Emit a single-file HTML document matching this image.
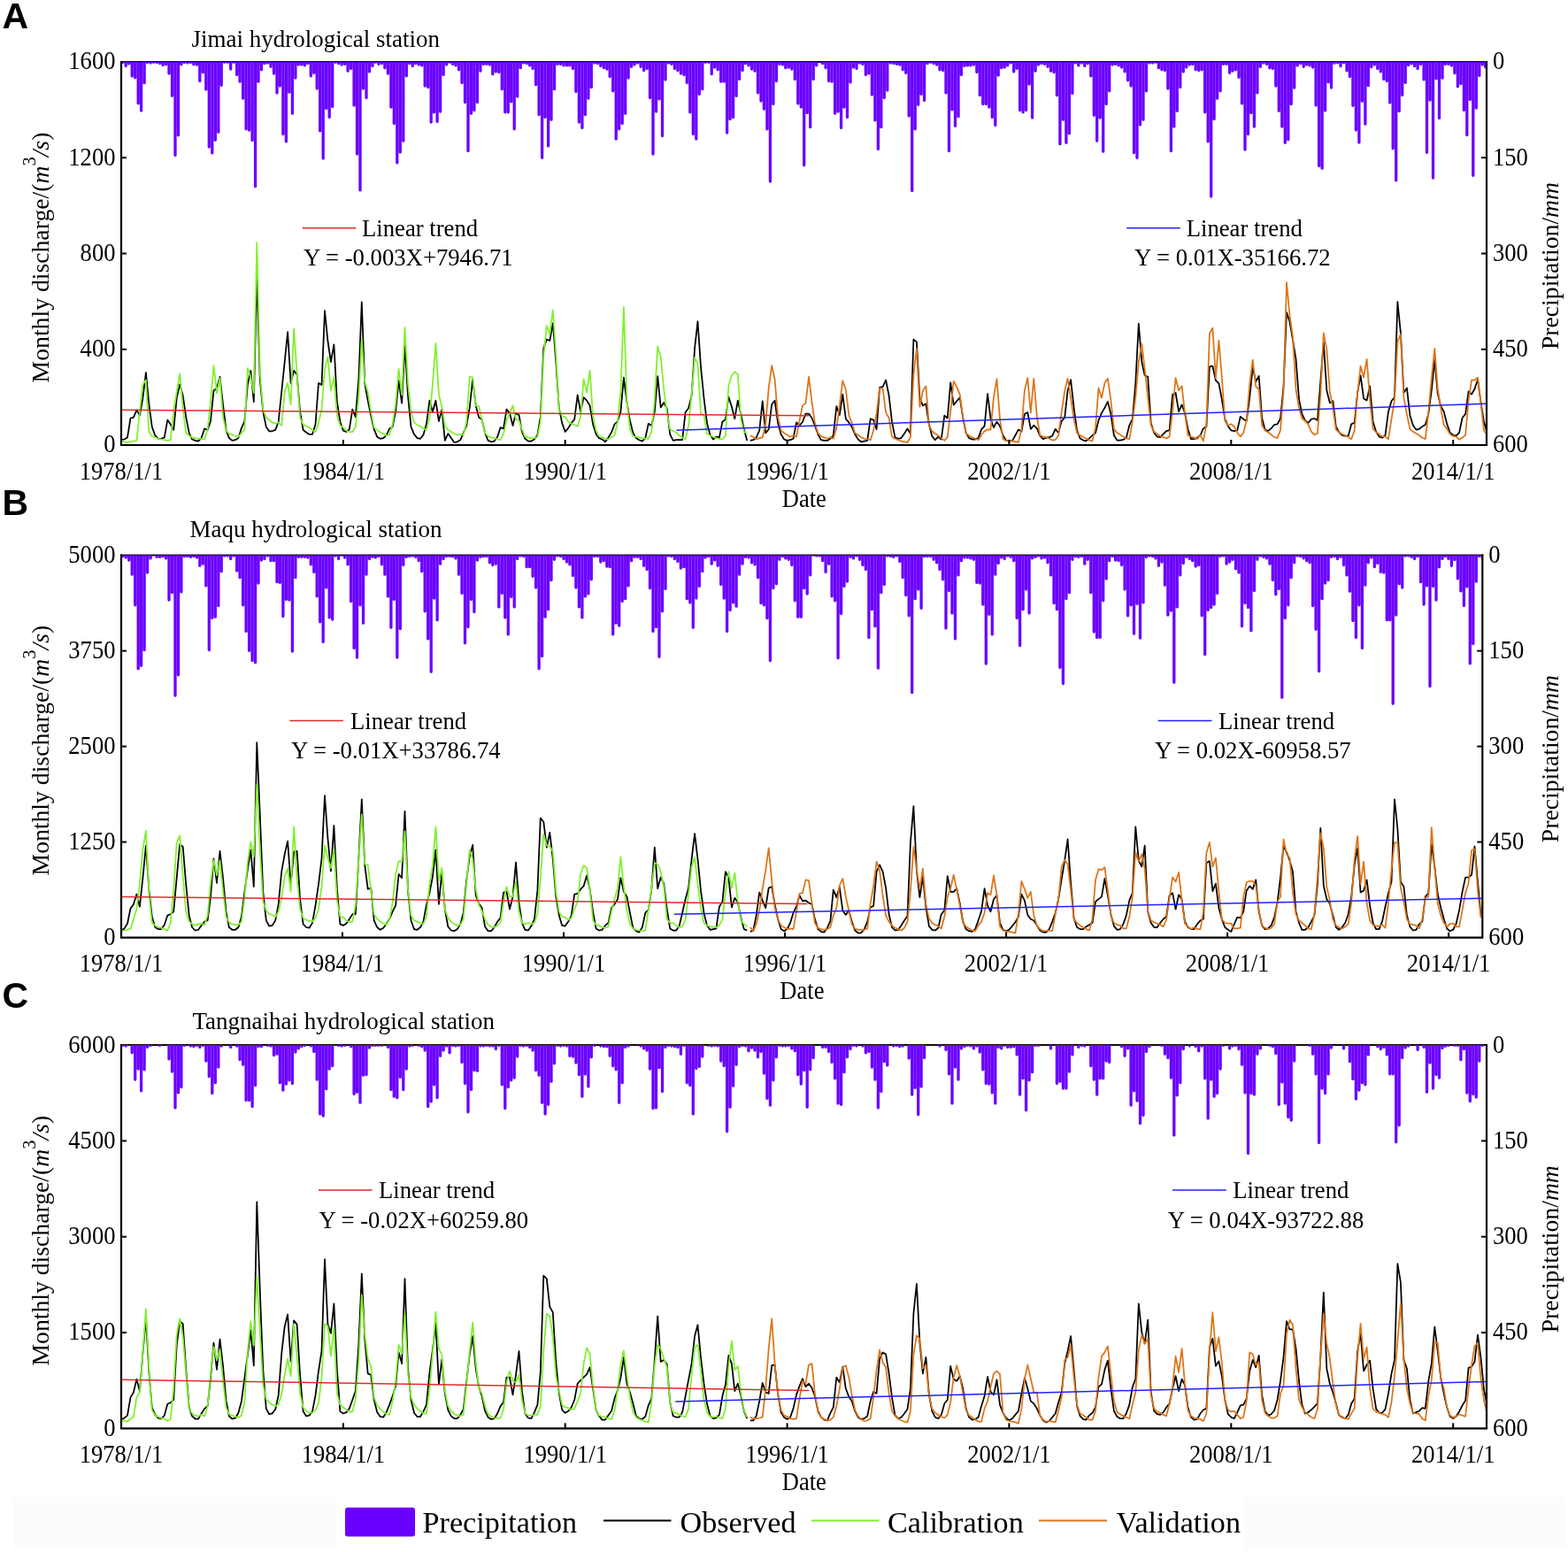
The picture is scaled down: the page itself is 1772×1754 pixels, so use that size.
<!DOCTYPE html>
<html><head><meta charset="utf-8"><title>Hydrological stations</title>
<style>
html,body{margin:0;padding:0;background:#fff;}
body{width:1772px;height:1754px;overflow:hidden;}
svg{display:block;}
.t{font-family:"Liberation Serif",serif;font-size:26.6px;fill:#000;}
.ti{font-family:"Liberation Serif",serif;font-size:27px;fill:#000;}
.lg{font-family:"Liberation Serif",serif;font-size:26.7px;fill:#000;}
.yl{font-family:"Liberation Serif",serif;font-size:27.7px;fill:#000;}
.bl{font-family:"Liberation Serif",serif;font-size:34.2px;fill:#000;}
.L{font-family:"Liberation Sans",sans-serif;font-weight:bold;font-size:41px;fill:#000;}
</style></head><body>
<svg width="1772" height="1754" viewBox="0 0 1772 1754">
<rect width="1772" height="1754" fill="#fff"/>
<clipPath id="ca"><rect x="137" y="70" width="1543" height="433"/></clipPath>
<line x1="136" y1="70" x2="1681" y2="70" stroke="#111" stroke-width="2"/>
<g clip-path="url(#ca)">
<path d="M138.7 70V70.6M142.2 70V74.5M145.7 70V71.9M149.2 70V86M152.7 70V87.8M156.2 70V116.8M159.6 70V125M163.1 70V93.7M166.6 70V70.6M170.1 70V71.1M173.6 70V70.3M177.1 70V70.6M180.6 70V71.5M184 70V73.6M187.5 70V72.8M191 70V83M194.5 70V108.3M198 70V175.4M201.5 70V152.8M204.9 70V72.8M208.4 70V70.6M211.9 70V71.1M215.4 70V70.6M218.9 70V72.8M222.4 70V73.2M225.8 70V91.6M229.3 70V81.8M232.8 70V101M236.3 70V166M239.8 70V172.9M243.3 70V158.3M246.8 70V149.3M250.2 70V96.3M253.7 70V70.3M257.2 70V70.3M260.7 70V78.1M264.2 70V70.3M267.7 70V84.4M271.1 70V92.2M274.6 70V111.2M278.1 70V145.8M281.6 70V147.2M285.1 70V158.5M288.6 70V210.7M292 70V92.2M295.5 70V78.8M299 70V71.7M302.5 70V71M306 70V75.3M309.5 70V83M313 70V104.9M316.4 70V97.1M319.9 70V151.5M323.4 70V159.9M326.9 70V104.2M330.4 70V128.2M333.9 70V88M337.3 70V73.1M340.8 70V73.1M344.3 70V73.9M347.8 70V71.7M351.3 70V85.8M354.8 70V82.3M358.2 70V100M361.7 70V147.9M365.2 70V179M368.7 70V122.5M372.2 70V132.4M375.7 70V120.4M379.1 70V70.3M382.6 70V71.7M386.1 70V73.1M389.6 70V72.4M393.1 70V80.2M396.6 70V77.4M400.1 70V119M403.5 70V174M407 70V214.9M410.5 70V100M414 70V110.5M417.5 70V80.9M421 70V74.6M424.4 70V70.3M427.9 70V72.4M431.4 70V71.7M434.9 70V76.7M438.4 70V83M441.9 70V121.1M445.3 70V139.5M448.8 70V183.9M452.3 70V171.9M455.8 70V159.2M459.3 70V85.8M462.8 70V71.7M466.3 70V74.6M469.7 70V71.7M473.2 70V73.1M476.7 70V73.9M480.2 70V97.1M483.7 70V98.5M487.2 70V138M490.6 70V126.8M494.1 70V137.3M497.6 70V126.1M501.1 70V84.4M504.6 70V73.1M508.1 70V70.3M511.5 70V72.4M515 70V73.9M518.5 70V78.8M522 70V93.6M525.5 70V115.5M529 70V170.5M532.5 70V128.2M535.9 70V124.6M539.4 70V115.5M542.9 70V80.2M546.4 70V72.4M549.9 70V72.4M553.4 70V73.1M556.8 70V83.7M560.3 70V80.9M563.8 70V81.6M567.3 70V100.7M570.8 70V126.8M574.3 70V126.8M577.7 70V114.8M581.2 70V145.8M584.7 70V109.1M588.2 70V76.7M591.7 70V71M595.2 70V71.7M598.7 70V73.9M602.1 70V77.4M605.6 70V95.7M609.1 70V129.6M612.6 70V178.3M616.1 70V132.4M619.6 70V164.9M623 70V135.2M626.5 70V100.7M630 70V72.4M633.5 70V72.4M637 70V73.9M640.5 70V73.9M643.9 70V73.9M647.4 70V77.4M650.9 70V103.5M654.4 70V138M657.9 70V144.4M661.4 70V129.6M664.9 70V111.2M668.3 70V98.5M671.8 70V71M675.3 70V71.7M678.8 70V74.6M682.3 70V76.7M685.8 70V78.1M689.2 70V86.6M692.7 70V102.8M696.2 70V157.1M699.7 70V145.8M703.2 70V139.5M706.7 70V128.2M710.1 70V88M713.6 70V75.3M717.1 70V73.1M720.6 70V71M724.1 70V75.3M727.6 70V79.5M731.1 70V77.4M734.5 70V110.5M738 70V174M741.5 70V126.1M745 70V111.9M748.5 70V153.6M752 70V90.1M755.4 70V71M758.9 70V72.4M762.4 70V77.4M765.9 70V79.5M769.4 70V83M772.9 70V84.4M776.3 70V93.6M779.8 70V126.8M783.3 70V151.5M786.8 70V157.1M790.3 70V106.3M793.8 70V100.7M797.2 70V70.3M800.7 70V70.3M804.2 70V83.7M807.7 70V76M811.2 70V78.8M814.7 70V92.2M818.2 70V92.2M821.6 70V150M825.1 70V134.5M828.6 70V132.4M832.1 70V108.4M835.6 70V89.4M839.1 70V79.5M842.5 70V71.7M846 70V73.9M849.5 70V78.1M853 70V80.2M856.5 70V104.9M860 70V114.1M863.4 70V123.2M866.9 70V145.8M870.4 70V205.1M873.9 70V117.6M877.4 70V91.5M880.9 70V72.4M884.4 70V73.1M887.8 70V76.7M891.3 70V76M894.8 70V78.1M898.3 70V89.4M901.8 70V116.9M905.3 70V121.1M908.7 70V186.7M912.2 70V127.5M915.7 70V143.7M919.2 70V89.4M922.7 70V73.9M929.6 70V71.7M933.1 70V76.7M936.6 70V91.5M940.1 70V92.2M943.6 70V128.2M947.1 70V126.1M950.6 70V144.4M954 70V121.1M957.5 70V132.4M961 70V92.9M964.5 70V76M968 70V77.4M971.5 70V71M974.9 70V72.4M978.4 70V84.4M981.9 70V83M985.4 70V107M988.9 70V135.9M992.4 70V168.4M995.8 70V143.7M999.3 70V110.5M1002.8 70V102.1M1006.3 70V71M1009.8 70V71.7M1013.3 70V72.4M1016.8 70V73.1M1020.2 70V78.8M1023.7 70V82.3M1027.2 70V131M1030.7 70V215.6M1034.2 70V145.8M1037.7 70V118.3M1041.1 70V106.3M1044.6 70V113.4M1048.1 70V71.7M1051.6 70V70.3M1055.1 70V71.7M1058.6 70V73.1M1062 70V78.8M1065.5 70V79.5M1069 70V104.9M1072.5 70V170.5M1076 70V123.9M1079.5 70V142.3M1083 70V131.7M1086.4 70V84.4M1089.9 70V74.6M1093.4 70V73.9M1096.9 70V73.9M1100.4 70V73.1M1103.9 70V81.6M1107.3 70V107.7M1110.8 70V117.6M1114.3 70V117.6M1117.8 70V121.1M1121.3 70V132.4M1124.8 70V141.6M1128.2 70V85.1M1131.7 70V76.7M1135.2 70V76M1138.7 70V73.9M1142.2 70V71M1145.7 70V80.9M1149.2 70V77.4M1152.6 70V124.6M1156.1 70V126.8M1159.6 70V124.6M1163.1 70V95M1166.6 70V133.1M1170.1 70V80.2M1173.5 70V73.1M1177 70V71.7M1180.5 70V72.4M1184 70V75.3M1187.5 70V80.2M1191 70V81.6M1194.4 70V107.7M1197.9 70V162.7M1201.4 70V135.2M1204.9 70V161.3M1208.4 70V150.7M1211.9 70V105.6M1215.3 70V71M1218.8 70V73.9M1222.3 70V71M1225.8 70V74.6M1229.3 70V71.7M1232.8 70V85.8M1236.3 70V130.3M1239.7 70V159.2M1243.2 70V133.1M1246.7 70V171.2M1250.2 70V117.6M1253.7 70V102.8M1257.2 70V73.1M1260.6 70V72.4M1264.1 70V73.9M1267.6 70V76M1271.1 70V80.9M1274.6 70V90.8M1278.1 70V97.1M1281.5 70V172.6M1285 70V178.3M1288.5 70V140.9M1292 70V135.2M1295.5 70V102.8M1299 70V71M1302.5 70V71M1305.9 70V70.3M1309.4 70V76.7M1312.9 70V78.8M1316.4 70V79.5M1319.9 70V100M1323.4 70V170.5M1326.8 70V143M1330.3 70V125.3M1333.8 70V98.5M1337.3 70V80.9M1340.8 70V76M1344.3 70V73.1M1347.7 70V72.4M1351.2 70V78.8M1354.7 70V79.5M1358.2 70V78.8M1361.7 70V126.8M1365.2 70V159.9M1368.7 70V222M1372.1 70V134.5M1375.6 70V111.2M1379.1 70V102.8M1382.6 70V72.4M1386.1 70V72.4M1389.6 70V82.3M1393 70V80.2M1396.5 70V78.8M1400 70V87.3M1403.5 70V116.9M1407 70V169.1M1410.5 70V151.5M1413.9 70V127.5M1417.4 70V143M1420.9 70V104.9M1424.4 70V75.3M1427.9 70V71M1431.4 70V72.4M1434.9 70V76.7M1438.3 70V77.4M1441.8 70V97.1M1445.3 70V125.3M1448.8 70V143M1452.3 70V161.3M1455.8 70V157.8M1459.2 70V117.6M1462.7 70V99.2M1466.2 70V73.9M1469.7 70V71.7M1473.2 70V75.3M1476.7 70V73.1M1480.1 70V73.9M1483.6 70V76M1487.1 70V119M1490.6 70V187.4M1494.1 70V190.2M1497.6 70V124.9M1501.1 70V92.8M1504.5 70V99M1508 70V71.3M1511.5 70V70.8M1515 70V74.7M1518.5 70V70.8M1522 70V79.8M1525.4 70V86.6M1528.9 70V119.3M1532.4 70V146.9M1535.9 70V161M1539.4 70V114.2M1542.9 70V140.2M1546.3 70V96.7M1549.8 70V75.8M1553.3 70V73M1556.8 70V77.5M1560.3 70V80.9M1563.8 70V89.4M1567.3 70V91.6M1570.7 70V115.9M1574.2 70V167.8M1577.7 70V203.9M1581.2 70V125.5M1584.7 70V107.4M1588.2 70V93.3M1591.6 70V73.6M1595.1 70V71.9M1598.6 70V74.7M1602.1 70V77.5M1605.6 70V72.4M1609.1 70V89.9M1612.5 70V172.3M1616 70V113.1M1619.5 70V201.1M1623 70V88.8M1626.5 70V133.4M1630 70V88.2M1633.4 70V72.4M1636.9 70V72.4M1640.4 70V74.1M1643.9 70V82.6M1647.4 70V97.8M1650.9 70V94.5M1654.4 70V124.4M1657.8 70V152.6M1661.3 70V112.5M1664.8 70V198.3M1668.3 70V122.1M1671.8 70V85.4M1675.3 70V73M1678.7 70V75.8" stroke="#6a00ff" stroke-width="3.3" stroke-linecap="round" fill="none"/>
<polyline points="137,497.2 140.5,496.5 144,494.4 147.5,472.5 150.9,471.8 154.4,463.3 157.9,469.7 161.4,449.9 164.9,421 168.4,457 171.8,482.4 175.3,492.2 178.8,495.8 182.3,495.8 185.8,494.4 189.3,474.6 192.7,479.5 196.2,485.9 199.7,449.9 203.2,434.4 206.7,447.1 210.2,471.1 213.7,489.4 217.1,496.5 220.6,497.9 224.1,498.6 227.6,495.1 231.1,484.5 234.6,485.9 238,476 241.5,441.5 245,438.6 248.5,425.9 252,457 255.5,485.9 258.9,495.1 262.4,497.9 265.9,497.2 269.4,495.1 272.9,483.8 276.4,476 279.9,434.4 283.3,418.9 286.8,454.2 290.3,314 293.8,428.8 297.3,465.4 300.8,482.4 304.2,487.3 307.7,487.3 311.2,485.9 314.7,476.7 318.2,442.9 321.7,409 325.1,375.1 328.6,433 332.1,418.9 335.6,423.1 339.1,465.4 342.6,485.9 346.1,488.7 349.5,490.8 353,490.8 356.5,479.5 360,433 363.5,435.1 367,351.2 370.4,385 373.9,409 377.4,389.3 380.9,454.2 384.4,476.7 387.9,486.6 391.3,488 394.8,485.2 398.3,462.6 401.8,471.1 405.3,428.8 408.8,341.3 412.2,433 415.7,452.7 419.2,469.7 422.7,485.2 426.2,493.7 429.7,495.8 433.2,495.1 436.6,492.2 440.1,484.5 443.6,482.4 447.1,465.4 450.6,430.2 454.1,455.6 457.5,390.7 461,447.1 464.5,482.4 468,490.8 471.5,495.1 475,495.8 478.4,491.5 481.9,479.5 485.4,452.7 488.9,465.4 492.4,452.7 495.9,476 499.4,462.6 502.8,497.9 506.3,490.1 509.8,495.1 513.3,500 516.8,499.3 520.3,497.2 523.7,489.4 527.2,481 530.7,461.2 534.2,428.8 537.7,458.4 541.2,471.8 544.6,473.9 548.1,489.4 551.6,497.9 555.1,499.3 558.6,498.6 562.1,493.7 565.6,483.1 569,484.5 572.5,462.6 576,466.9 579.5,481 583,466.9 586.5,469 589.9,488 593.4,495.8 596.9,498.6 600.4,498.6 603.9,496.5 607.4,491.5 610.8,471.1 614.3,393.5 617.8,383.6 621.3,385 624.8,365.3 628.3,409 631.8,461.2 635.2,478.1 638.7,488 642.2,483.8 645.7,478.1 649.2,473.9 652.7,446.4 656.1,465.4 659.6,449.2 663.1,452.7 666.6,458.4 670.1,479.5 673.6,490.8 677,495.1 680.5,496.5 684,499.3 687.5,494.4 691,488.7 694.5,479.5 698,476 701.4,465.4 704.9,426.6 708.4,454.2 711.9,475.3 715.4,489.4 718.9,495.1 722.3,497.2 725.8,498.6 729.3,495.1 732.8,478.8 736.3,481 739.8,465.4 743.2,425.2 746.7,460.5 750.2,454.9 753.7,461.9 757.2,490.8 760.7,497.9 764.2,497.2 767.6,497.2 771.1,497.2 774.6,466.1 778.1,461.2 781.6,447.1 785.1,393.5 788.5,363.2 792,414.7 795.5,449.9 799,478.1 802.5,491.5 806,496.5 809.4,493.7 812.9,494.4 816.4,476.7 819.9,473.9 823.4,448.5 826.9,459.8 830.3,473.2 833.8,452.7 837.3,468.3 840.8,485.2 844.3,497.9" stroke="#000" stroke-width="1.75" fill="none" stroke-linejoin="round"/>
<polyline points="847.8,497.9 851.3,497.2 854.7,494.4 858.2,486.6 861.7,453.4 865.2,489.4 868.7,485.2 872.2,457 875.6,452.7 879.1,478.1 882.6,490.8 886.1,496.5 889.6,497.9 893.1,497.2 896.5,495.8 900,477.4 903.5,481 907,476.7 910.5,467.6 914,467.6 917.5,472.5 920.9,481 924.4,490.8 927.9,497.2 931.4,497.9 934.9,497.9 938.4,495.8 941.8,492.2 945.3,459.1 948.8,469 952.3,445.7 955.8,473.2 959.3,477.4 962.7,482.4 966.2,490.8 969.7,496.5 973.2,499.3 976.7,498.6 980.2,497.9 983.7,473.2 987.1,474.6 990.6,485.2 994.1,437.9 997.6,437.2 1001.1,429.5 1004.6,447.1 1008,476.7 1011.5,494.4 1015,495.8 1018.5,495.1 1022,490.1 1025.5,484.5 1028.9,490.1 1032.4,383.6 1035.9,386.4 1039.4,449.9 1042.9,458.4 1046.4,456.3 1049.9,479.5 1053.3,493 1056.8,497.2 1060.3,493.7 1063.8,496.5 1067.3,469.7 1070.8,472.5 1074.2,432.3 1077.7,457.7 1081.2,453.4 1084.7,449.2 1088.2,471.8 1091.7,489.4 1095.1,495.1 1098.6,496.5 1102.1,496.5 1105.6,495.1 1109.1,485.2 1112.6,481.7 1116.1,445 1119.5,473.2 1123,483.1 1126.5,476.7 1130,481.4 1133.5,492 1137,497.6 1140.4,498.3 1143.9,498.3 1147.4,492 1150.9,485.6 1154.4,487.8 1157.9,468 1161.3,465.9 1164.8,484.9 1168.3,480.7 1171.8,484.2 1175.3,492.7 1178.8,496.2 1182.2,494.8 1185.7,494.1 1189.2,492.7 1192.7,484.9 1196.2,489.2 1199.7,475.8 1203.2,472.2 1206.6,441.2 1210.1,429.2 1213.6,461 1217.1,486.4 1220.6,495.5 1224.1,497.6 1227.5,498.3 1231,495.5 1234.5,492 1238,489.2 1241.5,475.1 1245,466.6 1248.4,461 1251.9,453.9 1255.4,468 1258.9,492 1262.4,497.6 1265.9,497.6 1269.4,496.9 1272.8,494.8 1276.3,480.7 1279.8,473.7 1283.3,432.7 1286.8,365.7 1290.3,408.8 1293.7,424.3 1297.2,425.7 1300.7,477.9 1304.2,489.2 1307.7,493.4 1311.2,494.1 1314.6,490.6 1318.1,487.1 1321.6,486.4 1325.1,446.1 1328.6,444 1332.1,465.2 1335.6,457.4 1339,466.6 1342.5,484.9 1346,496.2 1349.5,496.2 1353,494.8 1356.5,492 1359.9,484.2 1363.4,482.1 1366.9,414.4 1370.4,413.7 1373.9,429.9 1377.4,433.4 1380.8,451.1 1384.3,473.7 1387.8,481.4 1391.3,486.4 1394.8,487.1 1398.3,486.4 1401.8,470.8 1405.2,473.7 1408.7,475.8 1412.2,449.7 1415.7,415.1 1419.2,431.3 1422.7,425 1426.1,472.2 1429.6,485.6 1433.1,487.1 1436.6,484.2 1440.1,480 1443.6,479.3 1447,473 1450.5,437 1454,353 1457.5,363.6 1461,384.1 1464.5,405.9 1468,451.1 1471.4,468 1474.9,475.1 1478.4,477.9 1481.9,473.7 1485.4,473 1488.9,475.1 1492.3,431.3 1495.8,386.9 1499.3,441.2 1502.8,455.3 1506.3,453.2 1509.8,482.1 1513.2,488.5 1516.7,492 1520.2,492.7 1523.7,492.7 1527.2,479.3 1530.7,477.9 1534.2,443.3 1537.6,424.3 1541.1,450.4 1544.6,452.5 1548.1,436.3 1551.6,476.5 1555.1,487.8 1558.5,493.4 1562,494.8 1565.5,492 1569,465.2 1572.5,453.2 1576,449 1579.4,341 1582.9,376.3 1586.4,444 1589.9,438.4 1593.4,469.4 1596.9,480.7 1600.4,485.6 1603.8,484.9 1607.3,482.1 1610.8,480 1614.3,468 1617.8,441.2 1621.3,406.7 1624.7,444.5 1628.2,459 1631.7,465.1 1635.2,479 1638.7,489 1642.2,491.8 1645.6,492.3 1649.1,489 1652.6,472.3 1656.1,467.9 1659.6,442.3 1663.1,445.6 1666.5,439.5 1670,429 1673.5,454.5 1677,476.8 1680.5,489" stroke="#000" stroke-width="1.75" fill="none" stroke-linejoin="round"/>
<polyline points="137,497.9 140.5,499.3 144,500 147.5,499.3 150.9,498.6 154.4,497.9 157.9,465.4 161.4,434.4 164.9,429.5 168.4,488 171.8,493 175.3,494.4 178.8,495.8 182.3,496.5 185.8,497.2 189.3,497.9 192.7,497.2 196.2,465.4 199.7,442.9 203.2,422.4 206.7,461.2 210.2,489.4 213.7,492.2 217.1,494.4 220.6,495.1 224.1,495.8 227.6,495.8 231.1,496.5 234.6,485.2 238,454.2 241.5,413.2 245,444.3 248.5,427.3 252,471.1 255.5,486.6 258.9,490.1 262.4,491.5 265.9,493 269.4,493.7 272.9,489.4 276.4,485.2 279.9,416.1 283.3,425.9 286.8,444.3 290.3,274 293.8,420.3 297.3,464 300.8,471.1 304.2,474.6 307.7,477.4 311.2,478.8 314.7,477.4 318.2,481 321.7,442.9 325.1,433 328.6,457 332.1,371.6 335.6,421.7 339.1,472.5 342.6,479.5 346.1,481.7 349.5,483.1 353,485.9 356.5,488 360,478.1 363.5,462.6 367,417.5 370.4,403.4 373.9,441.5 377.4,426.6 380.9,469.7 384.4,481 387.9,483.1 391.3,486.6 394.8,488 398.3,488 401.8,482.4 405.3,449.9 408.8,383.6 412.2,431.6 415.7,442.9 419.2,465.4 422.7,483.1 426.2,485.9 429.7,488.7 433.2,490.1 436.6,492.2 440.1,491.5 443.6,479.5 447.1,457 450.6,416.8 454.1,446.4 457.5,370.2 461,433 464.5,465.4 468,477.4 471.5,480.3 475,481.7 478.4,484.5 481.9,485.9 485.4,472.5 488.9,434.4 492.4,387.8 495.9,445.7 499.4,459.8 502.8,481 506.3,485.9 509.8,488 513.3,490.1 516.8,491.5 520.3,490.8 523.7,491.5 527.2,476.7 530.7,425.9 534.2,426.6 537.7,458.4 541.2,459.1 544.6,473.9 548.1,489.4 551.6,493 555.1,494.4 558.6,495.1 562.1,496.5 565.6,497.2 569,490.1 572.5,475.3 576,466.9 579.5,458.4 583,473.9 586.5,475.3 589.9,485.2 593.4,493.7 596.9,494.4 600.4,495.1 603.9,495.1 607.4,493.7 610.8,476.7 614.3,403.4 617.8,368.1 621.3,378 624.8,350.5 628.3,400.5 631.8,462.6 635.2,470.4 638.7,471.1 642.2,476.7 645.7,478.8 649.2,480.3 652.7,481.7 656.1,471.1 659.6,428.1 663.1,443.6 666.6,418.9 670.1,471.1 673.6,486.6 677,493 680.5,494.4 684,495.8 687.5,496.5 691,493.7 694.5,492.2 698,476.7 701.4,442.9 704.9,346.9 708.4,452.7 711.9,485.2 715.4,493 718.9,493.7 722.3,494.4 725.8,495.1 729.3,495.8 732.8,495.8 736.3,488 739.8,452.7 743.2,391.4 746.7,403.4 750.2,440 753.7,466.9 757.2,485.2 760.7,487.3 764.2,488.7 767.6,492.2 771.1,494.4 774.6,496.5 778.1,481 781.6,445.7 785.1,404.1 788.5,411.1 792,467.6 795.5,469 799,490.1 802.5,492.2 806,493.7 809.4,495.1 812.9,495.8 816.4,496.5 819.9,492.2 823.4,435.8 826.9,424.5 830.3,420.3 833.8,423.1 837.3,473.9 840.8,488 844.3,490.1" stroke="#7ff02c" stroke-width="1.75" fill="none" stroke-linejoin="round"/>
<polyline points="847.8,492.2 851.3,493.7 854.7,496.5 858.2,495.1 861.7,494.4 865.2,479.5 868.7,438.6 872.2,413.2 875.6,428.8 879.1,471.1 882.6,486.6 886.1,489.4 889.6,491.5 893.1,493.7 896.5,492.2 900,493.7 903.5,475.3 907,458.4 910.5,455.6 914,425.9 917.5,454.2 920.9,478.1 924.4,489.4 927.9,493 931.4,494.4 934.9,495.8 938.4,494.4 941.8,495.8 945.3,483.8 948.8,458.4 952.3,430.2 955.8,440 959.3,469 962.7,478.1 966.2,489.4 969.7,491.5 973.2,494.4 976.7,495.8 980.2,496.5 983.7,497.2 987.1,486.6 990.6,466.9 994.1,438.6 997.6,439.3 1001.1,466.1 1004.6,472.5 1008,493.7 1011.5,495.8 1015,497.2 1018.5,498.6 1022,499.3 1025.5,500 1028.9,494.4 1032.4,423.1 1035.9,394.2 1039.4,459.8 1042.9,441.5 1046.4,436.5 1049.9,481 1053.3,487.3 1056.8,490.1 1060.3,492.2 1063.8,495.1 1067.3,497.9 1070.8,493.7 1074.2,465.4 1077.7,430.9 1081.2,437.2 1084.7,445.7 1088.2,472.5 1091.7,490.1 1095.1,492.2 1098.6,494.4 1102.1,495.8 1105.6,497.2 1109.1,491.5 1112.6,487.3 1116.1,485.2 1119.5,485.9 1123,448.5 1126.5,428.1 1130,473.7 1133.5,496.2 1137,498.3 1140.4,497.6 1143.9,498.3 1147.4,499.1 1150.9,499.8 1154.4,484.9 1157.9,441.2 1161.3,427.1 1164.8,466.6 1168.3,427.8 1171.8,470.8 1175.3,492 1178.8,493.4 1182.2,494.1 1185.7,495.5 1189.2,497.6 1192.7,496.9 1196.2,492 1199.7,465.2 1203.2,441.9 1206.6,427.8 1210.1,449.7 1213.6,473.7 1217.1,489.2 1220.6,492 1224.1,494.1 1227.5,495.5 1231,497.6 1234.5,498.3 1238,483.5 1241.5,438.4 1245,449.7 1248.4,432.7 1251.9,427.8 1255.4,452.5 1258.9,484.9 1262.4,489.2 1265.9,491.3 1269.4,493.4 1272.8,495.5 1276.3,496.2 1279.8,476.5 1283.3,449.7 1286.8,408.8 1290.3,388.3 1293.7,417.2 1297.2,449.7 1300.7,480.7 1304.2,487.8 1307.7,490.6 1311.2,492.7 1314.6,494.1 1318.1,495.5 1321.6,493.4 1325.1,465.2 1328.6,427.1 1332.1,441.2 1335.6,436.3 1339,466.6 1342.5,492 1346,493.4 1349.5,494.8 1353,496.2 1356.5,491.3 1359.9,498.3 1363.4,479.3 1366.9,377 1370.4,370.7 1373.9,427.1 1377.4,384.8 1380.8,425.7 1384.3,475.8 1387.8,480.7 1391.3,479.3 1394.8,482.1 1398.3,489.2 1401.8,493.4 1405.2,489.2 1408.7,475.1 1412.2,434.2 1415.7,406.6 1419.2,437 1422.7,439.8 1426.1,480.7 1429.6,486.4 1433.1,488.5 1436.6,491.3 1440.1,494.1 1443.6,494.8 1447,486.4 1450.5,442.6 1454,319.2 1457.5,356.6 1461,380.5 1464.5,439.8 1468,461 1471.4,473 1474.9,475.8 1478.4,479.3 1481.9,487.8 1485.4,491.3 1488.9,489.9 1492.3,446.9 1495.8,376.3 1499.3,394.7 1502.8,442.6 1506.3,461 1509.8,485.6 1513.2,488.5 1516.7,490.6 1520.2,492 1523.7,494.1 1527.2,496.2 1530.7,486.4 1534.2,444 1537.6,413.7 1541.1,426.4 1544.6,405.9 1548.1,451.1 1551.6,484.9 1555.1,488.5 1558.5,490.6 1562,493.4 1565.5,493.4 1569,496.2 1572.5,473.7 1576,452.5 1579.4,386.2 1582.9,377.7 1586.4,449.7 1589.9,468 1593.4,484.9 1596.9,487.8 1600.4,489.9 1603.8,492 1607.3,494.8 1610.8,496.2 1614.3,465.9 1617.8,427.1 1621.3,393.9 1624.7,439 1628.2,461.2 1631.7,480.1 1635.2,484.6 1638.7,490.7 1642.2,492.9 1645.6,493.5 1649.1,496.8 1652.6,494.6 1656.1,491.8 1659.6,452.3 1663.1,429.5 1666.5,429.5 1670,426.7 1673.5,455.1 1677,486.8 1680.5,491.2" stroke="#dd7418" stroke-width="1.75" fill="none" stroke-linejoin="round"/>
<line x1="137" y1="463.3" x2="914" y2="469.7" stroke="#e02a2a" stroke-width="1.5"/>
<line x1="764.4" y1="486.3" x2="1680" y2="456.3" stroke="#2020ff" stroke-width="1.5"/>
</g>
<path d="M137 69V503H1680V69" stroke="#000" stroke-width="2.2" fill="none"/>
<text transform="translate(130.5,511.4) scale(1,1.088)" text-anchor="end" class="t">0</text>
<text transform="translate(1687,511.4) scale(1,1.088)" class="t">600</text>
<line x1="137" y1="394.8" x2="143" y2="394.8" stroke="#000" stroke-width="2"/>
<line x1="1674" y1="394.8" x2="1680" y2="394.8" stroke="#000" stroke-width="2"/>
<text transform="translate(130.5,403.1) scale(1,1.088)" text-anchor="end" class="t">400</text>
<text transform="translate(1687,403.1) scale(1,1.088)" class="t">450</text>
<line x1="137" y1="286.5" x2="143" y2="286.5" stroke="#000" stroke-width="2"/>
<line x1="1674" y1="286.5" x2="1680" y2="286.5" stroke="#000" stroke-width="2"/>
<text transform="translate(130.5,294.9) scale(1,1.088)" text-anchor="end" class="t">800</text>
<text transform="translate(1687,294.9) scale(1,1.088)" class="t">300</text>
<line x1="137" y1="178.2" x2="143" y2="178.2" stroke="#000" stroke-width="2"/>
<line x1="1674" y1="178.2" x2="1680" y2="178.2" stroke="#000" stroke-width="2"/>
<text transform="translate(130.5,186.7) scale(1,1.088)" text-anchor="end" class="t">1200</text>
<text transform="translate(1687,186.7) scale(1,1.088)" class="t">150</text>
<text transform="translate(130.5,78.4) scale(1,1.088)" text-anchor="end" class="t">1600</text>
<text transform="translate(1687,78.4) scale(1,1.088)" class="t">0</text>
<text transform="translate(137,541.5) scale(1,1.088)" text-anchor="middle" class="t">1978/1/1</text>
<line x1="387.9" y1="503" x2="387.9" y2="497" stroke="#000" stroke-width="2"/>
<text transform="translate(387.9,541.5) scale(1,1.088)" text-anchor="middle" class="t">1984/1/1</text>
<line x1="638.7" y1="503" x2="638.7" y2="497" stroke="#000" stroke-width="2"/>
<text transform="translate(638.7,541.5) scale(1,1.088)" text-anchor="middle" class="t">1990/1/1</text>
<line x1="889.6" y1="503" x2="889.6" y2="497" stroke="#000" stroke-width="2"/>
<text transform="translate(889.6,541.5) scale(1,1.088)" text-anchor="middle" class="t">1996/1/1</text>
<line x1="1140.4" y1="503" x2="1140.4" y2="497" stroke="#000" stroke-width="2"/>
<text transform="translate(1140.4,541.5) scale(1,1.088)" text-anchor="middle" class="t">2002/1/1</text>
<line x1="1391.3" y1="503" x2="1391.3" y2="497" stroke="#000" stroke-width="2"/>
<text transform="translate(1391.3,541.5) scale(1,1.088)" text-anchor="middle" class="t">2008/1/1</text>
<line x1="1642.2" y1="503" x2="1642.2" y2="497" stroke="#000" stroke-width="2"/>
<text transform="translate(1642.2,541.5) scale(1,1.088)" text-anchor="middle" class="t">2014/1/1</text>
<text transform="translate(908.8,572.7) scale(1,1.07)" text-anchor="middle" class="t">Date</text>
<text x="2.5" y="31.7" class="L">A</text>
<text x="216.5" y="52.5" class="ti">Jimai hydrological station</text>
<text transform="translate(55,291) rotate(-90)" text-anchor="middle" class="yl">Monthly discharge/(<tspan font-style="italic">m</tspan><tspan dy="-15" font-size="20.5">3</tspan><tspan dy="15" font-style="italic">/s</tspan>)</text>
<text transform="translate(1761,300.5) rotate(-90)" text-anchor="middle" class="yl">Precipitation/<tspan font-style="italic">mm</tspan></text>
<line x1="341.7" y1="257.7" x2="402.2" y2="257.7" stroke="#e02a2a" stroke-width="1.6"/>
<text x="409" y="266.5" class="lg">Linear trend</text>
<text x="343" y="299.6" class="lg">Y = -0.003X+7946.71</text>
<line x1="1273.2" y1="257.7" x2="1333.8" y2="257.7" stroke="#2020ff" stroke-width="1.6"/>
<text x="1340.7" y="266.5" class="lg">Linear trend</text>
<text x="1282" y="299.6" class="lg">Y = 0.01X-35166.72</text>
<clipPath id="cb"><rect x="137" y="627.6" width="1538.3" height="432"/></clipPath>
<line x1="136" y1="627.6" x2="1676.3" y2="627.6" stroke="#111" stroke-width="2"/>
<g clip-path="url(#cb)">
<path d="M138.7 627.6V628.7M142.2 627.6V630.1M145.7 627.6V633M149.2 627.6V649.2M152.7 627.6V683.8M156.2 627.6V755.7M159.6 627.6V752.2M163.1 627.6V734.6M166.6 627.6V647.1M170.1 627.6V630.9M177.1 627.6V629.4M180.6 627.6V629.4M184 627.6V628.7M187.5 627.6V630.9M191 627.6V678.1M194.5 627.6V669.7M198 627.6V786M201.5 627.6V762.8M204.9 627.6V668.9M208.4 627.6V628.7M211.9 627.6V628.7M215.4 627.6V629.4M218.9 627.6V628.7M222.4 627.6V630.1M225.8 627.6V639.3M229.3 627.6V637.2M232.8 627.6V661.9M236.3 627.6V734.6M239.8 627.6V698.6M243.3 627.6V697.2M246.8 627.6V684.5M250.2 627.6V645.7M253.7 627.6V628M257.2 627.6V628M260.7 627.6V631.6M264.2 627.6V628M267.7 627.6V645M271.1 627.6V652.7M274.6 627.6V683.8M278.1 627.6V713.4M281.6 627.6V735.3M285.1 627.6V746.5M288.6 627.6V748.7M292 627.6V659.1M295.5 627.6V633M299 627.6V631.6M302.5 627.6V628M306 627.6V633.7M309.5 627.6V633.7M313 627.6V657.7M316.4 627.6V658.4M319.9 627.6V696.5M323.4 627.6V677.4M326.9 627.6V678.1M330.4 627.6V736M333.9 627.6V652.7M337.3 627.6V629.4M340.8 627.6V629.4M344.3 627.6V629.4M347.8 627.6V630.1M351.3 627.6V637.9M354.8 627.6V646.4M358.2 627.6V673.9M361.7 627.6V702.8M365.2 627.6V725.4M368.7 627.6V664M372.2 627.6V697.9M375.7 627.6V700M379.1 627.6V628M382.6 627.6V631.6M389.6 627.6V630.1M393.1 627.6V637.9M396.6 627.6V679.5M400.1 627.6V732.4M403.5 627.6V743M407 627.6V683.8M410.5 627.6V704.2M414 627.6V649.2M417.5 627.6V631.6M421 627.6V629.4M424.4 627.6V630.1M427.9 627.6V628.7M431.4 627.6V637.9M434.9 627.6V649.2M438.4 627.6V673.9M441.9 627.6V709.2M445.3 627.6V677.4M448.8 627.6V743M452.3 627.6V710.6M455.8 627.6V638.6M459.3 627.6V629.4M462.8 627.6V628.7M466.3 627.6V628M469.7 627.6V629.4M473.2 627.6V633.7M476.7 627.6V645.7M480.2 627.6V690.8M483.7 627.6V721.9M487.2 627.6V759.2M490.6 627.6V676M494.1 627.6V700.7M497.6 627.6V637.2M501.1 627.6V631.6M504.6 627.6V628.7M508.1 627.6V628.7M511.5 627.6V628.7M515 627.6V630.9M518.5 627.6V649.2M522 627.6V670.4M525.5 627.6V726.8M529 627.6V708.5M532.5 627.6V677.4M535.9 627.6V691.5M539.4 627.6V633M542.9 627.6V629.4M546.4 627.6V628.7M549.9 627.6V628.7M553.4 627.6V635.8M556.8 627.6V638.6M560.3 627.6V637.2M563.8 627.6V685.9M567.3 627.6V670.4M570.8 627.6V697.9M574.3 627.6V716.9M577.7 627.6V674.6M581.2 627.6V685.9M584.7 627.6V631.6M588.2 627.6V628M591.7 627.6V628.7M595.2 627.6V640.7M598.7 627.6V640.7M602.1 627.6V651.3M605.6 627.6V664M609.1 627.6V755.7M612.6 627.6V741.6M616.1 627.6V697.2M619.6 627.6V688.7M623 627.6V655.5M626.5 627.6V632.3M630 627.6V628M633.5 627.6V628.7M637 627.6V631.6M640.5 627.6V635.1M643.9 627.6V637.9M647.4 627.6V650.6M650.9 627.6V664M654.4 627.6V685.9M657.9 627.6V697.9M661.4 627.6V673.9M664.9 627.6V671.1M668.3 627.6V654.8M671.8 627.6V628.7M675.3 627.6V628.7M678.8 627.6V635.1M682.3 627.6V633.7M685.8 627.6V640M689.2 627.6V640.7M692.7 627.6V716.9M696.2 627.6V704.2M699.7 627.6V707M703.2 627.6V679.5M706.7 627.6V676.7M710.1 627.6V661.9M713.6 627.6V633.7M717.1 627.6V629.4M720.6 627.6V629.4M724.1 627.6V631.6M727.6 627.6V639.3M731.1 627.6V643.6M734.5 627.6V664.7M738 627.6V713.4M741.5 627.6V708.5M745 627.6V742.3M748.5 627.6V690.8M752 627.6V665.4M755.4 627.6V628M758.9 627.6V628.7M762.4 627.6V631.6M765.9 627.6V634.4M769.4 627.6V642.1M772.9 627.6V640.7M776.3 627.6V676.7M779.8 627.6V680.9M783.3 627.6V709.2M786.8 627.6V676M790.3 627.6V662.6M793.8 627.6V645.7M797.2 627.6V630.1M800.7 627.6V628.7M804.2 627.6V637.2M807.7 627.6V633M811.2 627.6V639.3M814.7 627.6V660.5M818.2 627.6V676M821.6 627.6V713.4M825.1 627.6V689.4M828.6 627.6V680.9M832.1 627.6V685.2M835.6 627.6V649.2M839.1 627.6V637.2M842.5 627.6V629.4M846 627.6V630.1M849.5 627.6V635.8M853 627.6V637.9M856.5 627.6V652.7M860 627.6V681.6M863.4 627.6V683.8M866.9 627.6V698.6M870.4 627.6V746.5M873.9 627.6V664.7M877.4 627.6V659.8M880.9 627.6V632.3M884.4 627.6V628.7M887.8 627.6V630.9M891.3 627.6V632.3M894.8 627.6V638.6M898.3 627.6V678.8M901.8 627.6V697.2M905.3 627.6V697.2M908.7 627.6V664.7M912.2 627.6V671.1M915.7 627.6V649.9M922.7 627.6V628M926.2 627.6V628M929.6 627.6V633.7M933.1 627.6V646.4M936.6 627.6V637.2M940.1 627.6V673.9M943.6 627.6V678.8M947.1 627.6V743.7M950.6 627.6V693.6M954 627.6V662.6M957.5 627.6V657M961 627.6V629.4M964.5 627.6V630.9M968 627.6V628M971.5 627.6V632.3M974.9 627.6V638.6M978.4 627.6V643.6M981.9 627.6V720.4M985.4 627.6V688.7M988.9 627.6V707.7M992.4 627.6V755M995.8 627.6V669.7M999.3 627.6V660.5M1002.8 627.6V628M1006.3 627.6V628.7M1009.8 627.6V629.4M1013.3 627.6V628M1016.8 627.6V634.4M1020.2 627.6V652.7M1023.7 627.6V672.5M1027.2 627.6V695.8M1030.7 627.6V782.5M1034.2 627.6V676.7M1037.7 627.6V666.1M1041.1 627.6V687.3M1044.6 627.6V628.7M1048.1 627.6V628.7M1051.6 627.6V628.7M1055.1 627.6V632.3M1058.6 627.6V635.8M1062 627.6V643.6M1065.5 627.6V654.8M1069 627.6V709.9M1072.5 627.6V667.5M1076 627.6V692.9M1079.5 627.6V721.9M1083 627.6V649.9M1086.4 627.6V633.7M1089.9 627.6V630.1M1093.4 627.6V630.1M1096.9 627.6V630.9M1100.4 627.6V632.3M1103.9 627.6V658.4M1107.3 627.6V659.1M1110.8 627.6V683.1M1114.3 627.6V750.1M1117.8 627.6V694.3M1121.3 627.6V716.9M1124.8 627.6V649.2M1128.2 627.6V636.5M1131.7 627.6V630.1M1135.2 627.6V631.6M1138.7 627.6V628M1142.2 627.6V629.4M1145.7 627.6V633.7M1149.2 627.6V698.6M1152.6 627.6V729.6M1156.1 627.6V688.7M1159.6 627.6V666.1M1163.1 627.6V692.9M1166.6 627.6V630.9M1170.1 627.6V629.4M1173.5 627.6V628M1177 627.6V630.9M1180.5 627.6V630.1M1184 627.6V635.8M1187.5 627.6V649.9M1191 627.6V681.6M1194.4 627.6V688.7M1197.9 627.6V754.3M1201.4 627.6V772.6M1204.9 627.6V676.7M1208.4 627.6V669.7M1211.9 627.6V632.3M1215.3 627.6V628.7M1218.8 627.6V629.4M1222.3 627.6V628.7M1225.8 627.6V637.2M1229.3 627.6V632.3M1232.8 627.6V669.7M1236.3 627.6V714.1M1239.7 627.6V720.4M1243.2 627.6V720.4M1246.7 627.6V678.8M1250.2 627.6V654.1M1253.7 627.6V633.7M1257.2 627.6V628.7M1260.6 627.6V633M1264.1 627.6V633.7M1267.6 627.6V638.6M1271.1 627.6V666.1M1274.6 627.6V695.8M1278.1 627.6V683.8M1281.5 627.6V716.2M1285 627.6V682.3M1288.5 627.6V721.1M1292 627.6V680.9M1295.5 627.6V629.4M1299 627.6V628M1302.5 627.6V628.7M1305.9 627.6V630.9M1309.4 627.6V639.3M1312.9 627.6V635.1M1316.4 627.6V661.2M1319.9 627.6V695M1323.4 627.6V690.1M1326.8 627.6V771.2M1330.3 627.6V685.9M1333.8 627.6V649.9M1337.3 627.6V636.5M1340.8 627.6V629.4M1344.3 627.6V631.6M1347.7 627.6V633.7M1351.2 627.6V640M1354.7 627.6V638.6M1358.2 627.6V695.8M1361.7 627.6V739.5M1365.2 627.6V689.4M1368.7 627.6V686.6M1372.1 627.6V683.1M1375.6 627.6V670.4M1379.1 627.6V628.7M1382.6 627.6V628M1386.1 627.6V637.2M1389.6 627.6V635.1M1393 627.6V632.3M1396.5 627.6V642.8M1400 627.6V647.1M1403.5 627.6V707.7M1407 627.6V681.6M1410.5 627.6V686.6M1413.9 627.6V712.7M1417.4 627.6V667.5M1420.9 627.6V632.3M1424.4 627.6V628M1427.9 627.6V629.4M1431.4 627.6V630.9M1434.9 627.6V637.2M1438.3 627.6V655.5M1441.8 627.6V671.8M1445.3 627.6V665.4M1448.8 627.6V788.2M1452.3 627.6V698.6M1455.8 627.6V683.8M1459.2 627.6V652.7M1462.7 627.6V635.8M1466.2 627.6V628M1469.7 627.6V628.7M1473.2 627.6V630.9M1476.7 627.6V633.7M1480.1 627.6V635.8M1483.6 627.6V684.5M1487.1 627.6V711.3M1490.6 627.6V758.5M1494.1 627.6V676.7M1497.6 627.6V659.1M1501.1 627.6V655.5M1504.5 627.6V629.4M1508 627.6V628.7M1511.5 627.6V631.6M1515 627.6V629.4M1518.5 627.6V638.6M1522 627.6V649.9M1525.4 627.6V668.2M1528.9 627.6V701.4M1532.4 627.6V720.4M1535.9 627.6V683.8M1539.4 627.6V732.4M1542.9 627.6V661.2M1546.3 627.6V635.8M1549.8 627.6V630.1M1553.3 627.6V640.7M1556.8 627.6V636.5M1560.3 627.6V646.4M1563.8 627.6V647.1M1567.3 627.6V700.7M1570.7 627.6V700.7M1574.2 627.6V795.2M1577.7 627.6V695M1581.2 627.6V659.8M1584.7 627.6V664M1588.2 627.6V628M1591.6 627.6V628M1595.1 627.6V629.4M1598.6 627.6V631.6M1602.1 627.6V628.7M1605.6 627.6V657.7M1609.1 627.6V683.1M1612.5 627.6V661.9M1616 627.6V775.5M1619.5 627.6V662.6M1623 627.6V678.1M1626.5 627.6V640.8M1630 627.6V631.6M1633.4 627.6V628.6M1636.9 627.6V631.6M1640.4 627.6V639.3M1643.9 627.6V632.5M1647.4 627.6V653.8M1650.9 627.6V667.9M1654.4 627.6V684.4M1657.8 627.6V663M1661.3 627.6V749.8M1664.8 627.6V727.5M1668.3 627.6V657.2M1671.8 627.6V628.6M1675.3 627.6V631.1" stroke="#6a00ff" stroke-width="3.3" stroke-linecap="round" fill="none"/>
<polyline points="137,1051.5 140.5,1049.4 144,1043.7 147.5,1026.8 150.9,1021.9 154.4,1010.6 157.9,1024.7 161.4,992.2 164.9,955.6 168.4,1006.4 171.8,1036 175.3,1048 178.8,1050.1 182.3,1050.1 185.8,1045.2 189.3,1034.6 192.7,1033.2 196.2,1030.3 199.7,992.2 203.2,954.2 206.7,957 210.2,999.3 213.7,1034.6 217.1,1048 220.6,1051.5 224.1,1050.8 227.6,1045.9 231.1,1041.6 234.6,1040.2 238,1013.4 241.5,970.4 245,997.9 248.5,961.9 252,992.2 255.5,1030.3 258.9,1048 262.4,1050.8 265.9,1050.8 269.4,1048 272.9,1036 276.4,1007.8 279.9,982.4 283.3,960.5 286.8,1002.1 290.3,839.2 293.8,921.7 297.3,1007.8 300.8,1040.2 304.2,1046.6 307.7,1045.9 311.2,1040.2 314.7,1021.9 318.2,985.2 321.7,965.4 325.1,950.6 328.6,999.3 332.1,962.6 335.6,961.9 339.1,1016.2 342.6,1044.4 346.1,1048 349.5,1048.7 353,1043 356.5,1023.3 360,999.3 363.5,970.4 367,899.1 370.4,947.1 373.9,984.5 377.4,933 380.9,1004.9 384.4,1044.4 387.9,1045.9 391.3,1043.7 394.8,1038.8 398.3,1033.2 401.8,1033.2 405.3,971.1 408.8,903.4 412.2,977.4 415.7,1004.9 419.2,1003.5 422.7,1040.2 426.2,1048 429.7,1050.8 433.2,1048.7 436.6,1044.4 440.1,1038.8 443.6,1030.3 447.1,1023.3 450.6,988 454.1,992.2 457.5,916.8 461,1006.4 464.5,1040.2 468,1050.1 471.5,1050.8 475,1048 478.4,1041.6 481.9,1022.6 485.4,1009.2 488.9,990.8 492.4,960.5 495.9,1021.9 499.4,985.2 502.8,1027.5 506.3,1047.3 509.8,1051.5 513.3,1052.2 516.8,1050.1 520.3,1044.4 523.7,1031.7 527.2,995.1 530.7,967.6 534.2,954.9 537.7,1012 541.2,1021.2 544.6,1026.1 548.1,1047.3 551.6,1052.2 555.1,1052.2 558.6,1048 562.1,1041.6 565.6,1037.4 569,1008.5 572.5,1007.8 576,1027.5 579.5,1013.4 583,974.6 586.5,1020.5 589.9,1043 593.4,1050.8 596.9,1051.5 600.4,1046.6 603.9,1038.8 607.4,1006.4 610.8,924.5 614.3,928.8 617.8,957.7 621.3,940.8 624.8,971.1 628.3,1013.4 631.8,1034.6 635.2,1045.9 638.7,1046.6 642.2,1041.6 645.7,1034.6 649.2,1010.6 652.7,1009.9 656.1,1004.9 659.6,1001.4 663.1,989.4 666.6,1004.9 670.1,1030.3 673.6,1049.4 677,1051.5 680.5,1050.8 684,1045.9 687.5,1043 691,1026.1 694.5,1021.9 698,1016.2 701.4,992.2 704.9,1007.8 708.4,1013.4 711.9,1031.7 715.4,1048.7 718.9,1052.2 722.3,1053.6 725.8,1048 729.3,1031.7 732.8,1028.2 736.3,1004.9 739.8,957.7 743.2,1004.2 746.7,991.5 750.2,998.6 753.7,1027.5 757.2,1049.4 760.7,1051.5 764.2,1051.5 767.6,1046.6 771.1,1031.7 774.6,1016.2 778.1,1003.5 781.6,971.1 785.1,942.2 788.5,971.1 792,1006.4 795.5,1031.7 799,1045.9 802.5,1050.8 806,1050.1 809.4,1049.4 812.9,1024.7 816.4,1019.1 819.9,985.2 823.4,992.2 826.9,1025.4 830.3,1014.8 833.8,1019.8 837.3,1037.4 840.8,1050.1 844.3,1051.5" stroke="#000" stroke-width="1.75" fill="none" stroke-linejoin="round"/>
<polyline points="847.8,1052.9 851.3,1051.5 854.7,1034.6 858.2,1008.5 861.7,1017.6 865.2,1026.1 868.7,1003.5 872.2,1002.1 875.6,1021.9 879.1,1038.8 882.6,1050.1 886.1,1052.2 889.6,1050.1 893.1,1043 896.5,1031.7 900,1024.7 903.5,1012 907,1018.3 910.5,1017.6 914,1020.5 917.5,1021.9 920.9,1038.8 924.4,1050.1 927.9,1052.9 931.4,1053.6 934.9,1048.7 938.4,1040.9 941.8,1005.6 945.3,1014.1 948.8,1002.8 952.3,1028.9 955.8,1033.9 959.3,1028.9 962.7,1041.6 966.2,1051.5 969.7,1054.3 973.2,1054.3 976.7,1050.1 980.2,1041.6 983.7,1025.4 987.1,1024 990.6,985.2 994.1,977.4 997.6,985.2 1001.1,1003.5 1004.6,1033.2 1008,1048 1011.5,1051.5 1015,1050.8 1018.5,1045.9 1022,1040.2 1025.5,1035.3 1028.9,952.7 1032.4,911.1 1035.9,983.8 1039.4,1014.1 1042.9,990.8 1046.4,1025.4 1049.9,1046.6 1053.3,1050.8 1056.8,1051.5 1060.3,1048.7 1063.8,1033.2 1067.3,1028.9 1070.8,990.1 1074.2,1007.8 1077.7,1007.8 1081.2,1004.2 1084.7,1020.5 1088.2,1041.6 1091.7,1050.1 1095.1,1052.2 1098.6,1052.9 1102.1,1050.1 1105.6,1040.2 1109.1,1029.6 1112.6,1004.2 1116.1,1023.3 1119.5,1030.3 1123,1016.2 1126.5,1012 1130,1043 1133.5,1050.8 1137,1052.2 1140.4,1050.8 1143.9,1046.6 1147.4,1042.3 1150.9,1036 1154.4,1010.6 1157.9,1017.6 1161.3,1033.9 1164.8,1038.8 1168.3,1040.2 1171.8,1045.9 1175.3,1051.5 1178.8,1053.6 1182.2,1053.6 1185.7,1050.1 1189.2,1041.6 1192.7,1031.7 1196.2,1016.2 1199.7,993.7 1203.2,972.5 1206.6,948.5 1210.1,997.9 1213.6,1037.4 1217.1,1048 1220.6,1050.1 1224.1,1050.1 1227.5,1047.3 1231,1045.2 1234.5,1043 1238,1019.1 1241.5,1016.2 1245,1013.4 1248.4,993 1251.9,1012 1255.4,1033.2 1258.9,1046.6 1262.4,1050.8 1265.9,1050.1 1269.4,1044.4 1272.8,1034.6 1276.3,1017.6 1279.8,1009.2 1283.3,934.4 1286.8,972.5 1290.3,979.5 1293.7,955.6 1297.2,1030.3 1300.7,1043 1304.2,1048 1307.7,1048 1311.2,1043 1314.6,1038.8 1318.1,1036 1321.6,1012 1325.1,1009.2 1328.6,1027.5 1332.1,1011.3 1335.6,1016.2 1339,1041.6 1342.5,1048 1346,1050.1 1349.5,1050.1 1353,1044.4 1356.5,1040.2 1359.9,1038.8 1363.4,975.3 1366.9,973.2 1370.4,1007.1 1373.9,998.6 1377.4,1026.1 1380.8,1038.8 1384.3,1048 1387.8,1050.8 1391.3,1052.9 1394.8,1044.4 1398.3,1036.7 1401.8,1037.4 1405.2,1030.3 1408.7,1006.4 1412.2,1001.4 1415.7,1004.9 1419.2,994.4 1422.7,1030.3 1426.1,1045.9 1429.6,1050.1 1433.1,1049.4 1436.6,1045.9 1440.1,1036.7 1443.6,1019.8 1447,992.2 1450.5,956.3 1454,963.3 1457.5,972.5 1461,985.2 1464.5,1030.3 1468,1043 1471.4,1050.8 1474.9,1050.8 1478.4,1048 1481.9,1041.6 1485.4,1034.6 1488.9,999.3 1492.3,935.8 1495.8,1000.7 1499.3,1016.2 1502.8,1021.2 1506.3,1034.6 1509.8,1048 1513.2,1050.8 1516.7,1048 1520.2,1043 1523.7,1033.2 1527.2,1013.4 1530.7,977.4 1534.2,958.4 1537.6,1008.5 1541.1,1006.4 1544.6,994.4 1548.1,1023.3 1551.6,1043 1555.1,1050.1 1558.5,1050.1 1562,1041.6 1565.5,1024.7 1569,1009.2 1572.5,996.5 1576,903.4 1579.4,936.5 1582.9,996.5 1586.4,1002.1 1589.9,1034.6 1593.4,1047.3 1596.9,1051.5 1600.4,1050.8 1603.8,1044.4 1607.3,1041.6 1610.8,1013.4 1614.3,1009.2 1617.8,954.2 1621.3,979.4 1624.7,1010.1 1628.2,1025.4 1631.7,1038.5 1635.2,1049.5 1638.7,1052.2 1642.2,1050.6 1645.6,1044 1649.1,1028.7 1652.6,1007.9 1656.1,991.5 1659.6,991.5 1663.1,988.7 1666.5,956.5 1670,996.9 1673.5,1034.2" stroke="#000" stroke-width="1.75" fill="none" stroke-linejoin="round"/>
<polyline points="137,1052.2 140.5,1051.5 144,1050.8 147.5,1049.4 150.9,1038.8 154.4,1027.5 157.9,997.9 161.4,959.8 164.9,938.6 168.4,1010.6 171.8,1043 175.3,1045.9 178.8,1048 182.3,1048.7 185.8,1050.1 189.3,1051.5 192.7,1043 196.2,1004.9 199.7,952.7 203.2,944.3 206.7,990.8 210.2,1030.3 213.7,1041.6 217.1,1044.4 220.6,1045.9 224.1,1044.4 227.6,1043.7 231.1,1045.2 234.6,1034.6 238,997.9 241.5,971.8 245,989.4 248.5,972.5 252,1006.4 255.5,1036 258.9,1042.3 262.4,1044.4 265.9,1045.2 269.4,1045.2 272.9,1041.6 276.4,1014.8 279.9,973.9 283.3,951.3 286.8,968.3 290.3,886.4 293.8,961.2 297.3,1019.1 300.8,1028.9 304.2,1033.2 307.7,1033.9 311.2,1036 314.7,1030.3 318.2,1014.8 321.7,990.8 325.1,981.7 328.6,1007.8 332.1,934.4 335.6,992.2 339.1,1027.5 342.6,1037.4 346.1,1039.5 349.5,1040.9 353,1041.6 356.5,1037.4 360,1027.5 363.5,1002.1 367,955.6 370.4,969.7 373.9,981 377.4,959.8 380.9,1017.6 384.4,1036 387.9,1036.7 391.3,1040.2 394.8,1042.3 398.3,1041.6 401.8,1022.6 405.3,972.5 408.8,920.3 412.2,976.7 415.7,977.4 419.2,1006.4 422.7,1033.2 426.2,1038.8 429.7,1041.6 433.2,1043.7 436.6,1045.2 440.1,1039.5 443.6,1020.5 447.1,988 450.6,973.2 454.1,973.9 457.5,939.3 461,1004.9 464.5,1034.6 468,1040.2 471.5,1041.6 475,1043 478.4,1044.4 481.9,1036 485.4,999.3 488.9,978.1 492.4,934.4 495.9,995.1 499.4,981 502.8,1027.5 506.3,1037.4 509.8,1041.6 513.3,1044.4 516.8,1045.9 520.3,1045.2 523.7,1038.8 527.2,999.3 530.7,960.5 534.2,971.1 537.7,1004.9 541.2,1022.6 544.6,1029.6 548.1,1038.8 551.6,1045.2 555.1,1047.3 558.6,1048 562.1,1045.9 565.6,1042.3 569,1019.1 572.5,1002.1 576,1013.4 579.5,1013.4 583,996.5 586.5,1030.3 589.9,1043 593.4,1044.4 596.9,1043 600.4,1044.4 603.9,1043 607.4,1033.2 610.8,992.2 614.3,942.9 617.8,955.6 621.3,956.3 624.8,962.6 628.3,1007.8 631.8,1030.3 635.2,1036 638.7,1036.7 642.2,1039.5 645.7,1037.4 649.2,1027.5 652.7,1019.1 656.1,988 659.6,978.1 663.1,981 666.6,1004.9 670.1,1040.2 673.6,1045.2 677,1045.9 680.5,1048 684,1048.7 687.5,1047.3 691,1030.3 694.5,1016.2 698,1003.5 701.4,968.3 704.9,1002.1 708.4,1028.9 711.9,1044.4 715.4,1049.4 718.9,1050.8 722.3,1051.5 725.8,1052.2 729.3,1051.5 732.8,1027.5 736.3,1003.5 739.8,975.3 743.2,976.7 746.7,985.2 750.2,1002.1 753.7,1038.8 757.2,1043 760.7,1043 764.2,1045.9 767.6,1048 771.1,1047.3 774.6,1039.5 778.1,1010.6 781.6,979.5 785.1,969 788.5,999.3 792,1026.1 795.5,1043 799,1045.9 802.5,1047.3 806,1047.3 809.4,1048 812.9,1045.9 816.4,1038.8 819.9,1007.8 823.4,985.2 826.9,1003.5 830.3,986.6 833.8,1019.1 837.3,1040.2 840.8,1044.4 844.3,1047.3" stroke="#7ff02c" stroke-width="1.75" fill="none" stroke-linejoin="round"/>
<polyline points="847.8,1048 851.3,1052.2 854.7,1044.4 858.2,1028.9 861.7,1004.9 865.2,983.8 868.7,958.4 872.2,995.1 875.6,1026.1 879.1,1038.8 882.6,1045.9 886.1,1048 889.6,1050.1 893.1,1049.4 896.5,1050.1 900,1030.3 903.5,1009.9 907,1009.2 910.5,994.4 914,995.1 917.5,1020.5 920.9,1043 924.4,1048.7 927.9,1050.1 931.4,1050.8 934.9,1050.1 938.4,1048 941.8,1034.6 945.3,1026.1 948.8,1000.7 952.3,993 955.8,1013.4 959.3,1028.9 962.7,1044.4 966.2,1049.4 969.7,1050.8 973.2,1050.8 976.7,1050.8 980.2,1049.4 983.7,1021.2 987.1,1001.4 990.6,973.9 994.1,983.8 997.6,1012 1001.1,1034.6 1004.6,1041.6 1008,1045.9 1011.5,1048.7 1015,1050.1 1018.5,1051.5 1022,1048.7 1025.5,1041.6 1028.9,1007.8 1032.4,957 1035.9,982.4 1039.4,1004.9 1042.9,981.7 1046.4,1021.9 1049.9,1038.1 1053.3,1043 1056.8,1045.2 1060.3,1046.6 1063.8,1049.4 1067.3,1036 1070.8,1013.4 1074.2,1004.2 1077.7,988.7 1081.2,1004.9 1084.7,1023.3 1088.2,1043 1091.7,1047.3 1095.1,1049.4 1098.6,1051.5 1102.1,1052.2 1105.6,1045.9 1109.1,1041.6 1112.6,1031.7 1116.1,1009.2 1119.5,1011.3 1123,989.4 1126.5,1012 1130,1047.3 1133.5,1051.5 1137,1052.9 1140.4,1052.9 1143.9,1053.6 1147.4,1054.3 1150.9,1033.2 1154.4,995.8 1157.9,1004.9 1161.3,1014.8 1164.8,1007.8 1168.3,1034.6 1171.8,1045.9 1175.3,1050.1 1178.8,1052.2 1182.2,1052.2 1185.7,1051.5 1189.2,1052.2 1192.7,1033.2 1196.2,1016.2 1199.7,979.5 1203.2,971.8 1206.6,976.7 1210.1,1006.4 1213.6,1038.8 1217.1,1043 1220.6,1045.9 1224.1,1048 1227.5,1050.1 1231,1051.5 1234.5,1038.8 1238,994.4 1241.5,982.4 1245,983.1 1248.4,980.3 1251.9,1006.4 1255.4,1034.6 1258.9,1043 1262.4,1045.2 1265.9,1045.9 1269.4,1049.4 1272.8,1049.4 1276.3,1036 1279.8,1013.4 1283.3,963.3 1286.8,973.9 1290.3,965.4 1293.7,981.7 1297.2,1029.6 1300.7,1040.2 1304.2,1042.3 1307.7,1043.7 1311.2,1045.2 1314.6,1047.3 1318.1,1039.5 1321.6,1014.8 1325.1,991.5 1328.6,996.5 1332.1,985.9 1335.6,1017.6 1339,1043.7 1342.5,1047.3 1346,1050.1 1349.5,1048 1353,1050.1 1356.5,1050.1 1359.9,1030.3 1363.4,964 1366.9,952 1370.4,979.5 1373.9,969.7 1377.4,1007.8 1380.8,1038.8 1384.3,1043 1387.8,1043.7 1391.3,1043.7 1394.8,1049.4 1398.3,1049.4 1401.8,1048.7 1405.2,1013.4 1408.7,997.2 1412.2,995.8 1415.7,995.8 1419.2,1000.7 1422.7,1028.9 1426.1,1045.9 1429.6,1048.7 1433.1,1050.1 1436.6,1048.7 1440.1,1044.4 1443.6,1019.1 1447,1013.4 1450.5,948.5 1454,965.4 1457.5,969.7 1461,1009.2 1464.5,1033.2 1468,1040.2 1471.4,1043 1474.9,1045.9 1478.4,1049.4 1481.9,1050.1 1485.4,1033.2 1488.9,990.8 1492.3,941.5 1495.8,958.4 1499.3,1002.1 1502.8,1017.6 1506.3,1038.8 1509.8,1045.9 1513.2,1048 1516.7,1049.4 1520.2,1047.3 1523.7,1044.4 1527.2,1020.5 1530.7,971.1 1534.2,945 1537.6,999.3 1541.1,973.9 1544.6,1020.5 1548.1,1040.2 1551.6,1045.2 1555.1,1046.6 1558.5,1046.6 1562,1045.2 1565.5,1048.7 1569,1020.5 1572.5,982.4 1576,952 1579.4,952.7 1582.9,1003.5 1586.4,1019.1 1589.9,1038.8 1593.4,1044.4 1596.9,1045.2 1600.4,1045.9 1603.8,1049.4 1607.3,1038.8 1610.8,1014.8 1614.3,1013.4 1617.8,935.1 1621.3,979.4 1624.7,1021 1628.2,1034.2 1631.7,1042.9 1635.2,1047.3 1638.7,1044 1642.2,1043.5 1645.6,1047.3 1649.1,1047.3 1652.6,1028.7 1656.1,1009 1659.6,998 1663.1,960.8 1666.5,959.7 1670,1006.8 1673.5,1037.4" stroke="#dd7418" stroke-width="1.75" fill="none" stroke-linejoin="round"/>
<line x1="137" y1="1013.4" x2="912.4" y2="1021.6" stroke="#e02a2a" stroke-width="1.5"/>
<line x1="762" y1="1033.2" x2="1675.3" y2="1015.2" stroke="#2020ff" stroke-width="1.5"/>
</g>
<path d="M137 626.6V1059.6H1675.3V626.6" stroke="#000" stroke-width="2.2" fill="none"/>
<text transform="translate(130.5,1068) scale(1,1.088)" text-anchor="end" class="t">0</text>
<text transform="translate(1682.3,1068) scale(1,1.088)" class="t">600</text>
<line x1="137" y1="951.6" x2="143" y2="951.6" stroke="#000" stroke-width="2"/>
<line x1="1669.3" y1="951.6" x2="1675.3" y2="951.6" stroke="#000" stroke-width="2"/>
<text transform="translate(130.5,960) scale(1,1.088)" text-anchor="end" class="t">1250</text>
<text transform="translate(1682.3,960) scale(1,1.088)" class="t">450</text>
<line x1="137" y1="843.6" x2="143" y2="843.6" stroke="#000" stroke-width="2"/>
<line x1="1669.3" y1="843.6" x2="1675.3" y2="843.6" stroke="#000" stroke-width="2"/>
<text transform="translate(130.5,852) scale(1,1.088)" text-anchor="end" class="t">2500</text>
<text transform="translate(1682.3,852) scale(1,1.088)" class="t">300</text>
<line x1="137" y1="735.6" x2="143" y2="735.6" stroke="#000" stroke-width="2"/>
<line x1="1669.3" y1="735.6" x2="1675.3" y2="735.6" stroke="#000" stroke-width="2"/>
<text transform="translate(130.5,744) scale(1,1.088)" text-anchor="end" class="t">3750</text>
<text transform="translate(1682.3,744) scale(1,1.088)" class="t">150</text>
<text transform="translate(130.5,636) scale(1,1.088)" text-anchor="end" class="t">5000</text>
<text transform="translate(1682.3,636) scale(1,1.088)" class="t">0</text>
<text transform="translate(137,1098.1) scale(1,1.088)" text-anchor="middle" class="t">1978/1/1</text>
<line x1="387" y1="1059.6" x2="387" y2="1053.6" stroke="#000" stroke-width="2"/>
<text transform="translate(387,1098.1) scale(1,1.088)" text-anchor="middle" class="t">1984/1/1</text>
<line x1="637" y1="1059.6" x2="637" y2="1053.6" stroke="#000" stroke-width="2"/>
<text transform="translate(637,1098.1) scale(1,1.088)" text-anchor="middle" class="t">1990/1/1</text>
<line x1="887.1" y1="1059.6" x2="887.1" y2="1053.6" stroke="#000" stroke-width="2"/>
<text transform="translate(887.1,1098.1) scale(1,1.088)" text-anchor="middle" class="t">1996/1/1</text>
<line x1="1137.1" y1="1059.6" x2="1137.1" y2="1053.6" stroke="#000" stroke-width="2"/>
<text transform="translate(1137.1,1098.1) scale(1,1.088)" text-anchor="middle" class="t">2002/1/1</text>
<line x1="1387.1" y1="1059.6" x2="1387.1" y2="1053.6" stroke="#000" stroke-width="2"/>
<text transform="translate(1387.1,1098.1) scale(1,1.088)" text-anchor="middle" class="t">2008/1/1</text>
<line x1="1637.1" y1="1059.6" x2="1637.1" y2="1053.6" stroke="#000" stroke-width="2"/>
<text transform="translate(1637.1,1098.1) scale(1,1.088)" text-anchor="middle" class="t">2014/1/1</text>
<text transform="translate(906.4,1129.3) scale(1,1.07)" text-anchor="middle" class="t">Date</text>
<text x="2.5" y="582.2" class="L">B</text>
<text x="214.5" y="606.7" class="ti">Maqu hydrological station</text>
<text transform="translate(55,848.1) rotate(-90)" text-anchor="middle" class="yl">Monthly discharge/(<tspan font-style="italic">m</tspan><tspan dy="-15" font-size="20.5">3</tspan><tspan dy="15" font-style="italic">/s</tspan>)</text>
<text transform="translate(1761,857.6) rotate(-90)" text-anchor="middle" class="yl">Precipitation/<tspan font-style="italic">mm</tspan></text>
<line x1="327.4" y1="814.5" x2="387.9" y2="814.5" stroke="#e02a2a" stroke-width="1.6"/>
<text x="396" y="823.7" class="lg">Linear trend</text>
<text x="329" y="856.7" class="lg">Y = -0.01X+33786.74</text>
<line x1="1308.6" y1="814.5" x2="1369.5" y2="814.5" stroke="#2020ff" stroke-width="1.6"/>
<text x="1377" y="823.7" class="lg">Linear trend</text>
<text x="1305" y="856.7" class="lg">Y = 0.02X-60958.57</text>
<clipPath id="cc"><rect x="137" y="1181.1" width="1543" height="433.2"/></clipPath>
<line x1="136" y1="1181.1" x2="1681" y2="1181.1" stroke="#111" stroke-width="2"/>
<g clip-path="url(#cc)">
<path d="M138.7 1181.1V1181.4M142.2 1181.1V1182M149.2 1181.1V1189.8M152.7 1181.1V1220.1M156.2 1181.1V1208.1M159.6 1181.1V1232.8M163.1 1181.1V1208.8M166.6 1181.1V1183.4M170.1 1181.1V1181.4M180.6 1181.1V1181.4M191 1181.1V1196.8M194.5 1181.1V1211M198 1181.1V1251.9M201.5 1181.1V1234.9M204.9 1181.1V1228.6M208.4 1181.1V1181.4M215.4 1181.1V1182M218.9 1181.1V1182.7M222.4 1181.1V1181.4M225.8 1181.1V1183.4M229.3 1181.1V1181.4M232.8 1181.1V1199M236.3 1181.1V1216.6M239.8 1181.1V1235.6M243.3 1181.1V1223.7M246.8 1181.1V1206M250.2 1181.1V1182M260.7 1181.1V1183.4M267.7 1181.1V1182M271.1 1181.1V1197.6M274.6 1181.1V1203.2M278.1 1181.1V1243.4M281.6 1181.1V1243.4M285.1 1181.1V1250.5M288.6 1181.1V1226.5M292 1181.1V1182.7M295.5 1181.1V1182.7M302.5 1181.1V1181.4M306 1181.1V1182M309.5 1181.1V1192.6M313 1181.1V1191.2M316.4 1181.1V1223.7M319.9 1181.1V1232.1M323.4 1181.1V1225.1M326.9 1181.1V1220.8M330.4 1181.1V1224.4M333.9 1181.1V1189.1M337.3 1181.1V1184.9M340.8 1181.1V1182.7M344.3 1181.1V1181.4M351.3 1181.1V1182M354.8 1181.1V1188.4M358.2 1181.1V1220.1M361.7 1181.1V1258.9M365.2 1181.1V1261M368.7 1181.1V1230.7M372.2 1181.1V1208.1M375.7 1181.1V1204.6M382.6 1181.1V1181.4M386.1 1181.1V1182M389.6 1181.1V1181.4M396.6 1181.1V1182.7M400.1 1181.1V1236.3M403.5 1181.1V1234.2M407 1181.1V1246.2M410.5 1181.1V1215.2M414 1181.1V1214.5M417.5 1181.1V1184.1M421 1181.1V1181.4M424.4 1181.1V1181.4M427.9 1181.1V1181.4M431.4 1181.1V1181.4M438.4 1181.1V1183.4M441.9 1181.1V1231.4M445.3 1181.1V1239.2M448.8 1181.1V1240.6M452.3 1181.1V1217.3M455.8 1181.1V1231.4M459.3 1181.1V1208.1M462.8 1181.1V1182M466.3 1181.1V1181.4M473.2 1181.1V1181.4M476.7 1181.1V1182.7M480.2 1181.1V1187M483.7 1181.1V1250.5M487.2 1181.1V1244.8M490.6 1181.1V1225.8M494.1 1181.1V1240.6M497.6 1181.1V1193.3M501.1 1181.1V1187M504.6 1181.1V1182M508.1 1181.1V1189.8M511.5 1181.1V1181.4M515 1181.1V1182M518.5 1181.1V1181.4M522 1181.1V1200.4M525.5 1181.1V1224.4M529 1181.1V1256.8M532.5 1181.1V1231.4M535.9 1181.1V1209.5M539.4 1181.1V1210.2M542.9 1181.1V1182M546.4 1181.1V1182M549.9 1181.1V1181.4M553.4 1181.1V1182M556.8 1181.1V1182M560.3 1181.1V1185.6M563.8 1181.1V1181.4M567.3 1181.1V1225.8M570.8 1181.1V1252.6M574.3 1181.1V1228.6M577.7 1181.1V1220.8M581.2 1181.1V1218M584.7 1181.1V1194M588.2 1181.1V1181.4M591.7 1181.1V1182M595.2 1181.1V1181.4M598.7 1181.1V1183.4M602.1 1181.1V1187M605.6 1181.1V1209.5M609.1 1181.1V1215.2M612.6 1181.1V1246.2M616.1 1181.1V1258.9M619.6 1181.1V1248.3M623 1181.1V1222.2M626.5 1181.1V1201.8M630 1181.1V1181.4M633.5 1181.1V1182M637 1181.1V1181.4M640.5 1181.1V1182M643.9 1181.1V1193.3M647.4 1181.1V1194M650.9 1181.1V1201.1M654.4 1181.1V1214.5M657.9 1181.1V1239.2M661.4 1181.1V1213.8M664.9 1181.1V1227.9M668.3 1181.1V1194.7M671.8 1181.1V1181.4M678.8 1181.1V1182M682.3 1181.1V1182.7M685.8 1181.1V1182.7M689.2 1181.1V1193.3M692.7 1181.1V1204.6M696.2 1181.1V1208.8M699.7 1181.1V1246.2M703.2 1181.1V1223.7M706.7 1181.1V1183.4M710.1 1181.1V1182M724.1 1181.1V1182M727.6 1181.1V1184.9M731.1 1181.1V1187M734.5 1181.1V1208.1M738 1181.1V1252.6M741.5 1181.1V1251.9M745 1181.1V1206.7M748.5 1181.1V1233.5M752 1181.1V1183.4M755.4 1181.1V1181.4M758.9 1181.1V1182M762.4 1181.1V1182.7M765.9 1181.1V1183.4M769.4 1181.1V1191.2M772.9 1181.1V1181.4M776.3 1181.1V1223.7M779.8 1181.1V1226.5M783.3 1181.1V1258.9M786.8 1181.1V1207.4M790.3 1181.1V1205.3M793.8 1181.1V1194M800.7 1181.1V1181.4M804.2 1181.1V1182M807.7 1181.1V1181.4M811.2 1181.1V1182M814.7 1181.1V1199M818.2 1181.1V1204.6M821.6 1181.1V1278.7M825.1 1181.1V1251.2M828.6 1181.1V1227.2M832.1 1181.1V1203.2M835.6 1181.1V1182.7M839.1 1181.1V1181.4M842.5 1181.1V1182M846 1181.1V1187.7M849.5 1181.1V1184.1M853 1181.1V1187M856.5 1181.1V1194.7M860 1181.1V1188.4M863.4 1181.1V1213.1M866.9 1181.1V1241.3M870.4 1181.1V1249M873.9 1181.1V1220.8M877.4 1181.1V1194.7M880.9 1181.1V1181.4M884.4 1181.1V1182M887.8 1181.1V1182M891.3 1181.1V1181.4M894.8 1181.1V1184.9M898.3 1181.1V1187.7M901.8 1181.1V1214.5M905.3 1181.1V1225.1M908.7 1181.1V1209.5M912.2 1181.1V1251.2M915.7 1181.1V1208.8M919.2 1181.1V1195.4M929.6 1181.1V1183.4M933.1 1181.1V1183.4M936.6 1181.1V1188.4M940.1 1181.1V1200.4M943.6 1181.1V1218.7M947.1 1181.1V1246.9M950.6 1181.1V1248.3M954 1181.1V1211.7M957.5 1181.1V1194.7M961 1181.1V1185.6M964.5 1181.1V1181.4M968 1181.1V1182M974.9 1181.1V1182M978.4 1181.1V1189.8M981.9 1181.1V1188.4M985.4 1181.1V1206M988.9 1181.1V1220.1M992.4 1181.1V1251.9M995.8 1181.1V1233.5M999.3 1181.1V1199.7M1002.8 1181.1V1203.9M1009.8 1181.1V1182M1013.3 1181.1V1181.4M1016.8 1181.1V1182.7M1020.2 1181.1V1182M1027.2 1181.1V1196.1M1030.7 1181.1V1237.1M1034.2 1181.1V1229.3M1037.7 1181.1V1259.6M1041.1 1181.1V1227.9M1044.6 1181.1V1195.4M1062 1181.1V1182M1069 1181.1V1186.3M1072.5 1181.1V1213.8M1076 1181.1V1246.9M1079.5 1181.1V1206M1083 1181.1V1220.1M1086.4 1181.1V1184.9M1089.9 1181.1V1182.7M1093.4 1181.1V1181.4M1096.9 1181.1V1182M1100.4 1181.1V1184.9M1103.9 1181.1V1182M1107.3 1181.1V1189.1M1110.8 1181.1V1208.8M1114.3 1181.1V1224.4M1117.8 1181.1V1225.1M1121.3 1181.1V1234.9M1124.8 1181.1V1246.9M1128.2 1181.1V1183.4M1131.7 1181.1V1184.9M1135.2 1181.1V1181.4M1138.7 1181.1V1183.4M1142.2 1181.1V1183.4M1145.7 1181.1V1182.7M1149.2 1181.1V1191.9M1152.6 1181.1V1237.1M1156.1 1181.1V1218.7M1159.6 1181.1V1254.7M1163.1 1181.1V1220.8M1166.6 1181.1V1211.7M1170.1 1181.1V1181.4M1173.5 1181.1V1181.4M1187.5 1181.1V1184.9M1194.4 1181.1V1224.4M1197.9 1181.1V1222.2M1201.4 1181.1V1230M1204.9 1181.1V1230M1208.4 1181.1V1211M1211.9 1181.1V1191.9M1218.8 1181.1V1183.4M1222.3 1181.1V1181.4M1225.8 1181.1V1182M1232.8 1181.1V1204.6M1236.3 1181.1V1220.1M1239.7 1181.1V1237.1M1243.2 1181.1V1218.7M1246.7 1181.1V1218.7M1250.2 1181.1V1199M1253.7 1181.1V1200.4M1267.6 1181.1V1182.7M1271.1 1181.1V1193.3M1274.6 1181.1V1184.9M1278.1 1181.1V1249M1281.5 1181.1V1232.8M1285 1181.1V1244.1M1288.5 1181.1V1269.5M1292 1181.1V1260.3M1295.5 1181.1V1188.4M1299 1181.1V1182.7M1312.9 1181.1V1181.4M1316.4 1181.1V1191.2M1319.9 1181.1V1195.4M1323.4 1181.1V1218M1326.8 1181.1V1282.9M1330.3 1181.1V1237.8M1333.8 1181.1V1223.7M1337.3 1181.1V1185.6M1344.3 1181.1V1182M1351.2 1181.1V1182.7M1354.7 1181.1V1187.7M1358.2 1181.1V1182M1361.7 1181.1V1218.7M1365.2 1181.1V1263.9M1368.7 1181.1V1220.1M1372.1 1181.1V1239.2M1375.6 1181.1V1235.6M1379.1 1181.1V1208.1M1382.6 1181.1V1181.4M1389.6 1181.1V1184.9M1393 1181.1V1182M1396.5 1181.1V1181.4M1400 1181.1V1185.6M1403.5 1181.1V1203.2M1407 1181.1V1234.9M1410.5 1181.1V1303.4M1413.9 1181.1V1235.6M1417.4 1181.1V1237.1M1420.9 1181.1V1191.2M1424.4 1181.1V1184.9M1434.9 1181.1V1181.4M1438.3 1181.1V1182.7M1441.8 1181.1V1190.5M1445.3 1181.1V1248.3M1448.8 1181.1V1222.9M1452.3 1181.1V1246.9M1455.8 1181.1V1262.5M1459.2 1181.1V1266M1462.7 1181.1V1199M1480.1 1181.1V1181.4M1483.6 1181.1V1191.2M1487.1 1181.1V1213.8M1490.6 1181.1V1291.4M1494.1 1181.1V1230M1497.6 1181.1V1235.6M1501.1 1181.1V1213.8M1504.5 1181.1V1184.1M1518.5 1181.1V1184.9M1525.4 1181.1V1199.7M1528.9 1181.1V1219.4M1532.4 1181.1V1242M1535.9 1181.1V1232.1M1539.4 1181.1V1223.7M1542.9 1181.1V1225.8M1546.3 1181.1V1191.9M1556.8 1181.1V1182.7M1560.3 1181.1V1185.6M1563.8 1181.1V1183.4M1567.3 1181.1V1191.9M1570.7 1181.1V1213.8M1574.2 1181.1V1213.8M1577.7 1181.1V1290.7M1581.2 1181.1V1271.6M1584.7 1181.1V1195.4M1588.2 1181.1V1184.1M1591.6 1181.1V1182M1602.1 1181.1V1186.3M1609.1 1181.1V1183.4M1612.5 1181.1V1234.2M1616 1181.1V1201.1M1619.5 1181.1V1230M1623 1181.1V1214.4M1626.5 1181.1V1218M1630 1181.1V1184.6M1633.4 1181.1V1182.3M1636.9 1181.1V1181.4M1643.9 1181.1V1181.4M1647.4 1181.1V1181.4M1650.9 1181.1V1197.7M1654.4 1181.1V1185.5M1657.8 1181.1V1235.1M1661.3 1181.1V1244.6M1664.8 1181.1V1236.5M1668.3 1181.1V1240.1M1671.8 1181.1V1199M1675.3 1181.1V1181.4" stroke="#6a00ff" stroke-width="3.3" stroke-linecap="round" fill="none"/>
<polyline points="137,1604.3 140.5,1602.7 144,1599.7 147.5,1579.1 150.9,1573.8 154.4,1558.6 157.9,1572.3 161.4,1529.7 164.9,1490.1 168.4,1551 171.8,1590.6 175.3,1598.9 178.8,1602.7 182.3,1603.5 185.8,1599.7 189.3,1586.8 192.7,1585.2 196.2,1582.2 199.7,1520.5 203.2,1493.1 206.7,1496.2 210.2,1547.9 213.7,1590.6 217.1,1600.5 220.6,1603.5 224.1,1603.5 227.6,1597.4 231.1,1592.1 234.6,1589 238,1557.1 241.5,1517.5 245,1547.9 248.5,1513.7 252,1543.4 255.5,1582.9 258.9,1600.5 262.4,1603.5 265.9,1602.7 269.4,1596.7 272.9,1583.7 276.4,1557.1 279.9,1531.2 283.3,1503 286.8,1543.4 290.3,1358.4 293.8,1459.6 297.3,1547.9 300.8,1592.1 304.2,1598.2 307.7,1597.4 311.2,1592.8 314.7,1576.9 318.2,1529.7 321.7,1499.2 325.1,1485.5 328.6,1538.8 332.1,1492.4 335.6,1496.9 339.1,1554 342.6,1595.1 346.1,1600.5 349.5,1599.7 353,1595.1 356.5,1576.9 360,1549.5 363.5,1526.6 367,1423.1 370.4,1496.2 373.9,1506.8 377.4,1473.3 380.9,1547.9 384.4,1595.1 387.9,1597.5 391.3,1596.1 394.8,1591.9 398.3,1582 401.8,1572.1 405.3,1519.9 408.8,1439.5 412.2,1512.9 415.7,1552.4 419.2,1553.8 422.7,1582 426.2,1596.1 429.7,1601 433.2,1601.7 436.6,1596.1 440.1,1587.6 443.6,1577.8 447.1,1566.5 450.6,1528.4 454.1,1541.1 457.5,1445.1 461,1546.7 464.5,1582 468,1596.8 471.5,1601 475,1601 478.4,1595.4 481.9,1587.6 485.4,1551.7 488.9,1525.6 492.4,1495.9 495.9,1564.4 499.4,1536.1 502.8,1574.9 506.3,1593.3 509.8,1600.3 513.3,1603.2 516.8,1603.2 520.3,1598.9 523.7,1592.6 527.2,1562.2 530.7,1531.2 534.2,1510 537.7,1546.7 541.2,1567.9 544.6,1577.8 548.1,1594.7 551.6,1601.7 555.1,1603.9 558.6,1603.2 562.1,1597.5 565.6,1589.1 569,1584.8 572.5,1556.6 576,1556.6 579.5,1576.4 583,1553.8 586.5,1527 589.9,1572.1 593.4,1597.5 596.9,1602.5 600.4,1603.2 603.9,1596.1 607.4,1587.6 610.8,1551 614.3,1441.6 617.8,1445.1 621.3,1476.9 624.8,1483.2 628.3,1539.7 631.8,1574.9 635.2,1593.3 638.7,1596.8 642.2,1594.7 645.7,1590.5 649.2,1582 652.7,1563.7 656.1,1560.1 659.6,1556.6 663.1,1553.1 666.6,1545.3 670.1,1569.3 673.6,1593.3 677,1600.3 680.5,1604.6 684,1604.6 687.5,1599.6 691,1594.7 694.5,1580.6 698,1570.7 701.4,1557.3 704.9,1534 708.4,1563.7 711.9,1573.5 715.4,1586.2 718.9,1600.3 722.3,1603.2 725.8,1603.9 729.3,1601 732.8,1588.3 736.3,1580.6 739.8,1536.9 743.2,1487.5 746.7,1539 750.2,1536.9 753.7,1541.8 757.2,1584.8 760.7,1600.3 764.2,1601.7 767.6,1601.7 771.1,1596.1 774.6,1577.8 778.1,1559.4 781.6,1541.1 785.1,1510 788.5,1497.3 792,1534 795.5,1563.7 799,1586.2 802.5,1600.3 806,1603.2 809.4,1602.5 812.9,1598.9 816.4,1577.8 819.9,1565.1 823.4,1531.9 826.9,1541.1 830.3,1572.1 833.8,1563.7 837.3,1577.1 840.8,1594.7 844.3,1603.2" stroke="#000" stroke-width="1.75" fill="none" stroke-linejoin="round"/>
<polyline points="847.8,1605.3 851.3,1605.3 854.7,1600.3 858.2,1583.4 861.7,1563 865.2,1573.5 868.7,1574.9 872.2,1543.2 875.6,1542.5 879.1,1574.9 882.6,1596.1 886.1,1601.7 889.6,1603.9 893.1,1601.7 896.5,1591.9 900,1576.4 903.5,1566.5 907,1558 910.5,1567.2 914,1563.7 917.5,1568.6 920.9,1577.8 924.4,1594.7 927.9,1601.7 931.4,1604.6 934.9,1605.3 938.4,1596.8 941.8,1590.5 945.3,1556.6 948.8,1562.2 952.3,1544.6 955.8,1569.3 959.3,1578.5 962.7,1583.4 966.2,1594.7 969.7,1601.7 973.2,1603.9 976.7,1603.2 980.2,1600.3 983.7,1583.4 987.1,1572.8 990.6,1574.9 994.1,1535.4 997.6,1528.4 1001.1,1530.5 1004.6,1552.4 1008,1579.2 1011.5,1599.6 1015,1603.2 1018.5,1601.7 1022,1597.5 1025.5,1592.6 1028.9,1569.3 1032.4,1484.7 1035.9,1450.8 1039.4,1517.1 1042.9,1552.4 1046.4,1534 1049.9,1576.4 1053.3,1594.7 1056.8,1601.7 1060.3,1603.2 1063.8,1598.9 1067.3,1586.2 1070.8,1582 1074.2,1543.9 1077.7,1558.7 1081.2,1560.8 1084.7,1555.2 1088.2,1569.3 1091.7,1591.9 1095.1,1601.7 1098.6,1604.6 1102.1,1603.9 1105.6,1601.7 1109.1,1589.1 1112.6,1577.8 1116.1,1555.9 1119.5,1572.8 1123,1576.4 1126.5,1559.4 1130,1587.6 1133.5,1596.8 1137,1602.5 1140.4,1605.3 1143.9,1603.2 1147.4,1598.9 1150.9,1594.7 1154.4,1574.9 1157.9,1557.3 1161.3,1569.3 1164.8,1583.4 1168.3,1586.2 1171.8,1591.9 1175.3,1599.6 1178.8,1605.3 1182.2,1607.4 1185.7,1606 1189.2,1601.7 1192.7,1597.5 1196.2,1584.8 1199.7,1573.5 1203.2,1541.1 1206.6,1527 1210.1,1510 1213.6,1548.1 1217.1,1589.1 1220.6,1600.3 1224.1,1603.9 1227.5,1604.6 1231,1599.6 1234.5,1596.8 1238,1590.5 1241.5,1567.2 1245,1564.4 1248.4,1548.1 1251.9,1537.6 1255.4,1569.3 1258.9,1594.7 1262.4,1601 1265.9,1603.2 1269.4,1603.2 1272.8,1597.5 1276.3,1587.6 1279.8,1567.9 1283.3,1558 1286.8,1473.4 1290.3,1505.8 1293.7,1518.5 1297.2,1491.7 1300.7,1573.5 1304.2,1594.7 1307.7,1598.2 1311.2,1598.9 1314.6,1596.1 1318.1,1590.5 1321.6,1586.2 1325.1,1569.3 1328.6,1555.2 1332.1,1572.1 1335.6,1558.7 1339,1565.1 1342.5,1590.5 1346,1601.7 1349.5,1604.6 1353,1603.9 1356.5,1597.5 1359.9,1593.3 1363.4,1591.9 1366.9,1522.7 1370.4,1512.9 1373.9,1543.9 1377.4,1538.3 1380.8,1555.2 1384.3,1582 1387.8,1598.2 1391.3,1601.7 1394.8,1603.2 1398.3,1596.1 1401.8,1588.3 1405.2,1587.6 1408.7,1580.6 1412.2,1549.5 1415.7,1536.9 1419.2,1545.3 1422.7,1531.9 1426.1,1576.4 1429.6,1594.7 1433.1,1599.6 1436.6,1598.2 1440.1,1594 1443.6,1582 1447,1560.8 1450.5,1534 1454,1493.1 1457.5,1502.3 1461,1502.3 1464.5,1524.2 1468,1560.8 1471.4,1587.6 1474.9,1597.5 1478.4,1596.1 1481.9,1593.3 1485.4,1589.8 1488.9,1586.2 1492.3,1534 1495.8,1460.7 1499.3,1546.7 1502.8,1563.7 1506.3,1573.5 1509.8,1586.2 1513.2,1599.6 1516.7,1601.7 1520.2,1603.2 1523.7,1598.9 1527.2,1586.2 1530.7,1580.6 1534.2,1527 1537.6,1507.2 1541.1,1549.5 1544.6,1542.5 1548.1,1537.6 1551.6,1569.3 1555.1,1591.9 1558.5,1596.8 1562,1596.8 1565.5,1592.6 1569,1574.9 1572.5,1552.4 1576,1536.9 1579.4,1428.2 1582.9,1449.4 1586.4,1536.9 1589.9,1546.7 1593.4,1582 1596.9,1597.5 1600.4,1596.1 1603.8,1594.7 1607.3,1591.2 1610.8,1591.9 1614.3,1560.8 1617.8,1541.1 1621.3,1499.7 1624.7,1526.7 1628.2,1557 1631.7,1574.9 1635.2,1590.7 1638.7,1600.8 1642.2,1603 1645.6,1600.8 1649.1,1595.2 1652.6,1588.4 1656.1,1582.8 1659.6,1545.8 1663.1,1544.6 1666.5,1539 1670,1508.7 1673.5,1534.5 1677,1570.5 1680.5,1588.4" stroke="#000" stroke-width="1.75" fill="none" stroke-linejoin="round"/>
<polyline points="137,1605 140.5,1605.8 144,1606.5 147.5,1603.5 150.9,1601.2 154.4,1579.1 157.9,1573.8 161.4,1529.7 164.9,1479.4 168.4,1547.9 171.8,1593.6 175.3,1599.7 178.8,1601.2 182.3,1602.7 185.8,1603.5 189.3,1605.8 192.7,1604.3 196.2,1569.2 199.7,1508.3 203.2,1490.1 206.7,1510.6 210.2,1552.5 213.7,1592.1 217.1,1597.4 220.6,1599.7 224.1,1600.5 227.6,1598.9 231.1,1600.5 234.6,1589 238,1552.5 241.5,1522 245,1537.3 248.5,1525.1 252,1560.1 255.5,1590.6 258.9,1598.2 262.4,1599.7 265.9,1601.2 269.4,1602 272.9,1599.7 276.4,1584.5 279.9,1526.6 283.3,1493.1 286.8,1520.5 290.3,1442.9 293.8,1505.3 297.3,1564.7 300.8,1581.4 304.2,1585.2 307.7,1587.5 311.2,1589 314.7,1587.5 318.2,1575.3 321.7,1554 325.1,1535.7 328.6,1555.5 332.1,1496.2 335.6,1532.7 339.1,1575.3 342.6,1590.6 346.1,1594.4 349.5,1596.7 353,1596.7 356.5,1593.6 360,1586 363.5,1557.1 367,1496.2 370.4,1498.4 373.9,1532.7 377.4,1500.7 380.9,1575.3 384.4,1587.5 387.9,1590.5 391.3,1593.3 394.8,1595.4 398.3,1595.4 401.8,1580.6 405.3,1539.7 408.8,1463.5 412.2,1507.2 415.7,1535.4 419.2,1543.9 422.7,1579.2 426.2,1588.3 429.7,1592.6 433.2,1595.4 436.6,1598.2 440.1,1598.9 443.6,1584.1 447.1,1560.8 450.6,1519.9 454.1,1529.8 457.5,1484.7 461,1552.4 464.5,1579.2 468,1587.6 471.5,1591.9 475,1594.7 478.4,1597.5 481.9,1597.5 485.4,1570.7 488.9,1529.8 492.4,1482.5 495.9,1524.2 499.4,1531.2 502.8,1572.1 506.3,1589.1 509.8,1594.7 513.3,1598.2 516.8,1599.6 520.3,1600.3 523.7,1598.9 527.2,1565.1 530.7,1527 534.2,1494.5 537.7,1539.7 541.2,1569.3 544.6,1574.9 548.1,1589.1 551.6,1598.2 555.1,1601 558.6,1602.5 562.1,1603.2 565.6,1602.5 569,1593.3 572.5,1562.2 576,1549.5 579.5,1560.8 583,1562.2 586.5,1553.8 589.9,1582 593.4,1597.5 596.9,1599.6 600.4,1599.6 603.9,1598.9 607.4,1598.9 610.8,1589.1 614.3,1527 617.8,1484.7 621.3,1487.5 624.8,1511.5 628.3,1555.2 631.8,1572.1 635.2,1587.6 638.7,1590.5 642.2,1591.2 645.7,1593.3 649.2,1591.9 652.7,1583.4 656.1,1574.9 659.6,1541.1 663.1,1523.4 666.6,1530.5 670.1,1566.5 673.6,1593.3 677,1599.6 680.5,1601 684,1601.7 687.5,1603.2 691,1603.9 694.5,1594.7 698,1569.3 701.4,1542.5 704.9,1526.3 708.4,1553.8 711.9,1579.2 715.4,1596.1 718.9,1601.7 722.3,1603.9 725.8,1605.3 729.3,1606.7 732.8,1607.4 736.3,1584.8 739.8,1542.5 743.2,1519.9 746.7,1524.2 750.2,1535.4 753.7,1545.3 757.2,1586.2 760.7,1596.1 764.2,1596.8 767.6,1598.9 771.1,1600.3 774.6,1601.7 778.1,1591.9 781.6,1553.8 785.1,1522.7 788.5,1519.9 792,1549.5 795.5,1582 799,1596.1 802.5,1601 806,1601.7 809.4,1601 812.9,1602.5 816.4,1603.2 819.9,1591.9 823.4,1543.9 826.9,1515.7 830.3,1548.1 833.8,1543.9 837.3,1573.5 840.8,1593.3 844.3,1601.7" stroke="#7ff02c" stroke-width="1.75" fill="none" stroke-linejoin="round"/>
<polyline points="847.8,1601.7 851.3,1603.2 854.7,1603.2 858.2,1602.5 861.7,1601.7 865.2,1569.3 868.7,1524.2 872.2,1490.3 875.6,1541.1 879.1,1575.6 882.6,1593.3 886.1,1599.6 889.6,1601 893.1,1603.2 896.5,1603.9 900,1603.2 903.5,1580.6 907,1560.8 910.5,1563.7 914,1542.5 917.5,1541.1 920.9,1574.9 924.4,1596.1 927.9,1601.7 931.4,1603.9 934.9,1605.3 938.4,1604.6 941.8,1601.7 945.3,1589.1 948.8,1569.3 952.3,1545.3 955.8,1543.2 959.3,1556.6 962.7,1576.4 966.2,1593.3 969.7,1600.3 973.2,1603.9 976.7,1606 980.2,1605.3 983.7,1603.2 987.1,1579.2 990.6,1548.1 994.1,1525.6 997.6,1539.7 1001.1,1545.3 1004.6,1574.9 1008,1594.7 1011.5,1600.3 1015,1603.2 1018.5,1605.3 1022,1606.7 1025.5,1607.4 1028.9,1594.7 1032.4,1531.2 1035.9,1509.3 1039.4,1512.9 1042.9,1546.7 1046.4,1542.5 1049.9,1576.4 1053.3,1591.9 1056.8,1596.8 1060.3,1598.9 1063.8,1601 1067.3,1602.5 1070.8,1598.9 1074.2,1584.8 1077.7,1556.6 1081.2,1543.2 1084.7,1555.2 1088.2,1574.9 1091.7,1593.3 1095.1,1599.6 1098.6,1601.7 1102.1,1604.6 1105.6,1606.7 1109.1,1606.7 1112.6,1591.9 1116.1,1583.4 1119.5,1567.2 1123,1552.4 1126.5,1549.5 1130,1553.1 1133.5,1596.1 1137,1604.6 1140.4,1606 1143.9,1606.7 1147.4,1607.4 1150.9,1608.8 1154.4,1591.9 1157.9,1559.4 1161.3,1542.5 1164.8,1558 1168.3,1573.5 1171.8,1573.5 1175.3,1600.3 1178.8,1604.6 1182.2,1606.7 1185.7,1606 1189.2,1606.7 1192.7,1607.4 1196.2,1594 1199.7,1579.2 1203.2,1536.9 1206.6,1534 1210.1,1520.6 1213.6,1556.6 1217.1,1587.6 1220.6,1597.5 1224.1,1599.6 1227.5,1601.7 1231,1604.6 1234.5,1604.6 1238,1594.7 1241.5,1556.6 1245,1532.6 1248.4,1528.4 1251.9,1521.3 1255.4,1553.8 1258.9,1583.4 1262.4,1596.1 1265.9,1598.2 1269.4,1600.3 1272.8,1601.7 1276.3,1603.2 1279.8,1587.6 1283.3,1573.5 1286.8,1525.6 1290.3,1508.6 1293.7,1518.5 1297.2,1512.9 1300.7,1576.4 1304.2,1591.9 1307.7,1595.4 1311.2,1596.8 1314.6,1598.9 1318.1,1600.3 1321.6,1586.2 1325.1,1567.9 1328.6,1532.6 1332.1,1551 1335.6,1524.2 1339,1563.7 1342.5,1594 1346,1600.3 1349.5,1602.5 1353,1603.2 1356.5,1603.9 1359.9,1606 1363.4,1597.5 1366.9,1527 1370.4,1483.2 1373.9,1527 1377.4,1511.5 1380.8,1539.7 1384.3,1583.4 1387.8,1593.3 1391.3,1595.4 1394.8,1594.7 1398.3,1598.9 1401.8,1603.2 1405.2,1601.7 1408.7,1583.4 1412.2,1528.4 1415.7,1530.5 1419.2,1542.5 1422.7,1539.7 1426.1,1582 1429.6,1596.8 1433.1,1600.3 1436.6,1602.5 1440.1,1602.5 1443.6,1600.3 1447,1574.9 1450.5,1566.5 1454,1507.2 1457.5,1491.7 1461,1497.3 1464.5,1546.7 1468,1582 1471.4,1590.5 1474.9,1596.1 1478.4,1598.9 1481.9,1601.7 1485.4,1603.2 1488.9,1592.6 1492.3,1535.4 1495.8,1484.7 1499.3,1518.5 1502.8,1535.4 1506.3,1563.7 1509.8,1587.6 1513.2,1599.6 1516.7,1601 1520.2,1603.2 1523.7,1603.9 1527.2,1597.5 1530.7,1591.9 1534.2,1534 1537.6,1495.9 1541.1,1535.4 1544.6,1522.7 1548.1,1569.3 1551.6,1591.9 1555.1,1595.4 1558.5,1596.8 1562,1598.2 1565.5,1598.9 1569,1601.7 1572.5,1584.8 1576,1555.2 1579.4,1515.7 1582.9,1473.4 1586.4,1535.4 1589.9,1569.3 1593.4,1586.2 1596.9,1596.8 1600.4,1597.5 1603.8,1598.2 1607.3,1603.2 1610.8,1605.3 1614.3,1577.8 1617.8,1559.4 1621.3,1516.6 1624.7,1517.7 1628.2,1557 1631.7,1569.3 1635.2,1590.7 1638.7,1599.6 1642.2,1601.9 1645.6,1600.8 1649.1,1598.5 1652.6,1599.6 1656.1,1600.8 1659.6,1569.3 1663.1,1542.4 1666.5,1521.1 1670,1517.7 1673.5,1558.1 1677,1582.8 1680.5,1597.4" stroke="#dd7418" stroke-width="1.75" fill="none" stroke-linejoin="round"/>
<line x1="137" y1="1559.3" x2="914.4" y2="1571.4" stroke="#e02a2a" stroke-width="1.5"/>
<line x1="763.3" y1="1584.1" x2="1680" y2="1561.6" stroke="#2020ff" stroke-width="1.5"/>
</g>
<path d="M137 1180.1V1614.3H1680V1180.1" stroke="#000" stroke-width="2.2" fill="none"/>
<text transform="translate(130.5,1622.7) scale(1,1.088)" text-anchor="end" class="t">0</text>
<text transform="translate(1687,1622.7) scale(1,1.088)" class="t">600</text>
<line x1="137" y1="1506" x2="143" y2="1506" stroke="#000" stroke-width="2"/>
<line x1="1674" y1="1506" x2="1680" y2="1506" stroke="#000" stroke-width="2"/>
<text transform="translate(130.5,1514.4) scale(1,1.088)" text-anchor="end" class="t">1500</text>
<text transform="translate(1687,1514.4) scale(1,1.088)" class="t">450</text>
<line x1="137" y1="1397.7" x2="143" y2="1397.7" stroke="#000" stroke-width="2"/>
<line x1="1674" y1="1397.7" x2="1680" y2="1397.7" stroke="#000" stroke-width="2"/>
<text transform="translate(130.5,1406.1) scale(1,1.088)" text-anchor="end" class="t">3000</text>
<text transform="translate(1687,1406.1) scale(1,1.088)" class="t">300</text>
<line x1="137" y1="1289.4" x2="143" y2="1289.4" stroke="#000" stroke-width="2"/>
<line x1="1674" y1="1289.4" x2="1680" y2="1289.4" stroke="#000" stroke-width="2"/>
<text transform="translate(130.5,1297.8) scale(1,1.088)" text-anchor="end" class="t">4500</text>
<text transform="translate(1687,1297.8) scale(1,1.088)" class="t">150</text>
<text transform="translate(130.5,1189.5) scale(1,1.088)" text-anchor="end" class="t">6000</text>
<text transform="translate(1687,1189.5) scale(1,1.088)" class="t">0</text>
<text transform="translate(137,1652.8) scale(1,1.088)" text-anchor="middle" class="t">1978/1/1</text>
<line x1="387.9" y1="1614.3" x2="387.9" y2="1608.3" stroke="#000" stroke-width="2"/>
<text transform="translate(387.9,1652.8) scale(1,1.088)" text-anchor="middle" class="t">1984/1/1</text>
<line x1="638.7" y1="1614.3" x2="638.7" y2="1608.3" stroke="#000" stroke-width="2"/>
<text transform="translate(638.7,1652.8) scale(1,1.088)" text-anchor="middle" class="t">1990/1/1</text>
<line x1="889.6" y1="1614.3" x2="889.6" y2="1608.3" stroke="#000" stroke-width="2"/>
<text transform="translate(889.6,1652.8) scale(1,1.088)" text-anchor="middle" class="t">1996/1/1</text>
<line x1="1140.4" y1="1614.3" x2="1140.4" y2="1608.3" stroke="#000" stroke-width="2"/>
<text transform="translate(1140.4,1652.8) scale(1,1.088)" text-anchor="middle" class="t">2002/1/1</text>
<line x1="1391.3" y1="1614.3" x2="1391.3" y2="1608.3" stroke="#000" stroke-width="2"/>
<text transform="translate(1391.3,1652.8) scale(1,1.088)" text-anchor="middle" class="t">2008/1/1</text>
<line x1="1642.2" y1="1614.3" x2="1642.2" y2="1608.3" stroke="#000" stroke-width="2"/>
<text transform="translate(1642.2,1652.8) scale(1,1.088)" text-anchor="middle" class="t">2014/1/1</text>
<text transform="translate(908.8,1684) scale(1,1.07)" text-anchor="middle" class="t">Date</text>
<text x="2.5" y="1138.8" class="L">C</text>
<text x="217.5" y="1162.8" class="ti">Tangnaihai hydrological station</text>
<text transform="translate(55,1402.2) rotate(-90)" text-anchor="middle" class="yl">Monthly discharge/(<tspan font-style="italic">m</tspan><tspan dy="-15" font-size="20.5">3</tspan><tspan dy="15" font-style="italic">/s</tspan>)</text>
<text transform="translate(1761,1411.7) rotate(-90)" text-anchor="middle" class="yl">Precipitation/<tspan font-style="italic">mm</tspan></text>
<line x1="359.8" y1="1345" x2="420.6" y2="1345" stroke="#e02a2a" stroke-width="1.6"/>
<text x="428" y="1354" class="lg">Linear trend</text>
<text x="360.5" y="1387.6" class="lg">Y = -0.02X+60259.80</text>
<line x1="1325" y1="1345" x2="1385.8" y2="1345" stroke="#2020ff" stroke-width="1.6"/>
<text x="1393.2" y="1354" class="lg">Linear trend</text>
<text x="1319.7" y="1387.6" class="lg">Y = 0.04X-93722.88</text>
<rect x="16" y="1692" width="364" height="59.5" fill="#fcfcfc"/>
<rect x="1406" y="1692" width="364" height="59.5" fill="#fcfcfc"/>
<rect x="390" y="1703.8" width="79" height="32.8" rx="3" fill="#6a00ff"/>
<text x="477.5" y="1731.5" class="bl">Precipitation</text>
<line x1="682" y1="1718.6" x2="758.5" y2="1718.6" stroke="#000" stroke-width="2"/>
<text x="768.5" y="1731.5" class="bl">Observed</text>
<line x1="917" y1="1718.6" x2="993.5" y2="1718.6" stroke="#7ff02c" stroke-width="2"/>
<text x="1003" y="1731.5" class="bl">Calibration</text>
<line x1="1174" y1="1718.6" x2="1251" y2="1718.6" stroke="#dd7418" stroke-width="2"/>
<text x="1261.5" y="1731.5" class="bl">Validation</text>
</svg>
</body></html>
